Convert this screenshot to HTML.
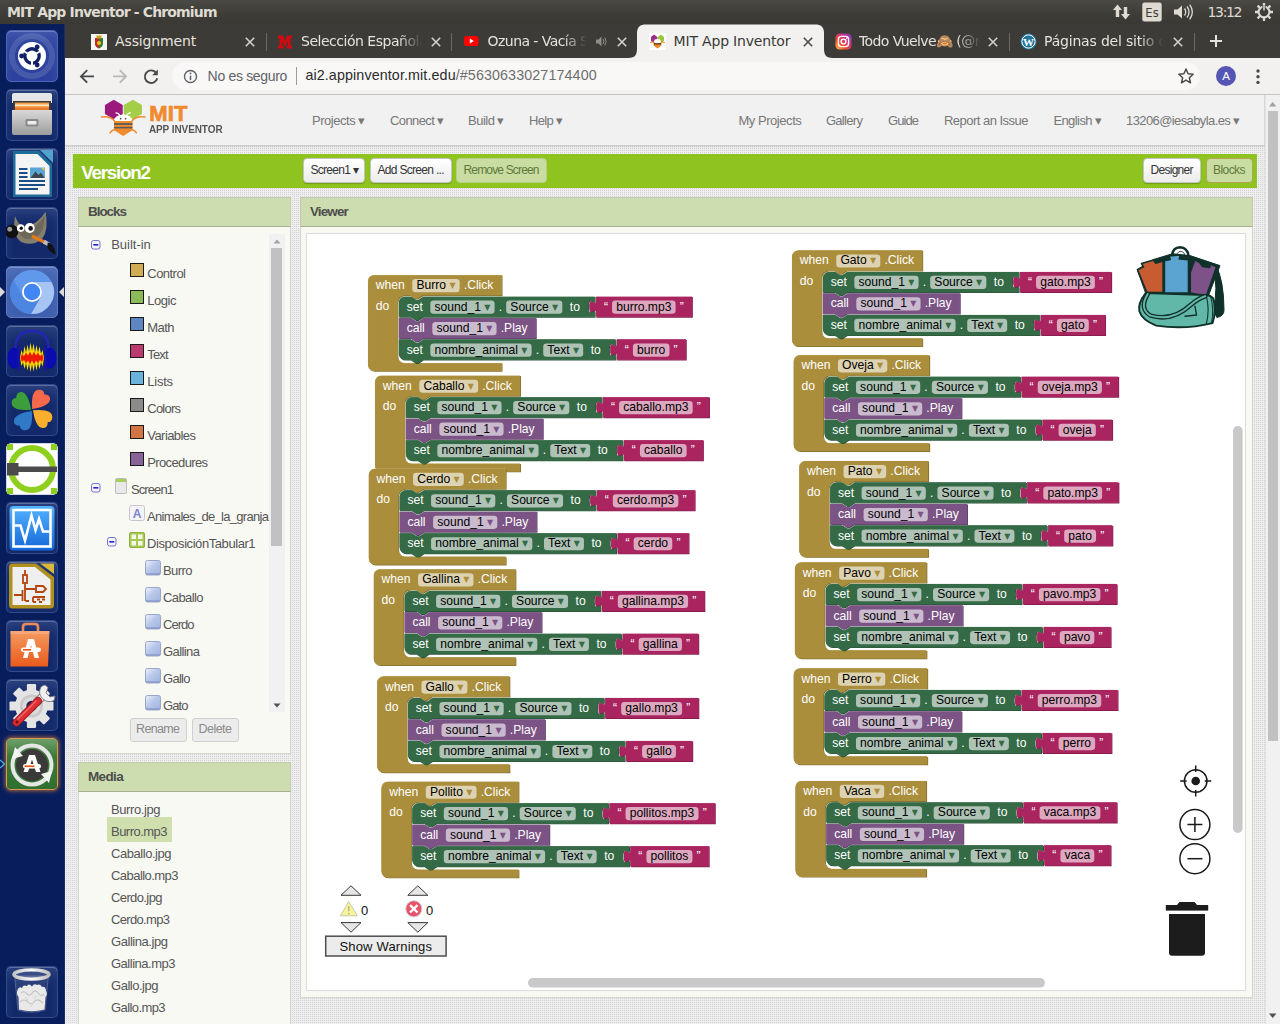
<!DOCTYPE html><html><head><meta charset="utf-8"><title>MIT App Inventor</title><style>
*{box-sizing:border-box;margin:0;padding:0}
html,body{width:1280px;height:1024px;overflow:hidden;background:#e9e9e9;font-family:"Liberation Sans",sans-serif;}
.abs{position:absolute}
#title{left:0;top:0;width:1280px;height:24px;background:linear-gradient(#46453f,#3a3934);color:#dfdbd2;font:bold 14.5px "DejaVu Sans","Liberation Sans",sans-serif;}
#title span{position:absolute;left:7px;top:3px;white-space:nowrap;letter-spacing:-0.35px}
#launcher{left:0;top:24px;width:65px;height:1000px;background:#081e5c;border-right:1px solid #1c2c66}
#tabs{left:65px;top:24px;width:1215px;height:34px;background:#3c3b37}
#toolbar{left:65px;top:58px;width:1215px;height:37px;background:#f2f1f0;border-bottom:1px solid #c9c8c6}
#page{left:65px;top:95px;width:1200px;height:929px;background:#e6e6e6;overflow:hidden}
.tabtxt{position:absolute;top:8px;font:14.5px "DejaVu Sans","Liberation Sans",sans-serif;color:#e4e1dc;white-space:nowrap;overflow:hidden;letter-spacing:-0.5px}
.x{position:absolute;top:7px;font:15px "DejaVu Sans",sans-serif;color:#d0cdc8}
svg text{white-space:pre}
svg text.bt{fill:#fff;font:14.667px "Liberation Sans",sans-serif}
svg text.et{fill:#000;font:14.667px "Liberation Sans","DejaVu Sans",sans-serif}
svg .er{fill:#fff;fill-opacity:.6}
.nav{position:absolute;top:19px;font:12.5px "Liberation Sans",sans-serif;color:#777;white-space:nowrap;letter-spacing:-0.2px}
.btn{position:absolute;height:25px;border:1px solid #c9c9c9;border-radius:3px;background:linear-gradient(#fff,#efefef);font:11.5px "Liberation Sans",sans-serif;color:#333;text-align:center;line-height:23px;white-space:nowrap;box-shadow:0 1px 1px rgba(0,0,0,.15)}
.phead{position:absolute;background:#cdddb0;color:#555;font:bold 13px "Liberation Sans",sans-serif;border-bottom:1px solid #aab48f}
.pbody{position:absolute;background:#f9f9f4}
.tree{position:absolute;font:12.5px "Liberation Sans",sans-serif;color:#555;white-space:nowrap;letter-spacing:-0.2px}
.sq{position:absolute;width:14px;height:14px;border:1px solid #222}
</style></head><body>
<div style="position:absolute;left:0.00px;top:0.00px;width:1280.00px;height:24.00px;background:linear-gradient(#4a4943,#3d3c37 60%,#3a3935)"></div>
<div style="position:absolute;left:7.00px;top:3.16px;font:bold 14px/18px 'DejaVu Sans',sans-serif;letter-spacing:-0.848px;color:#dfdbd2;white-space:nowrap;">MIT App Inventor - Chromium</div>
<svg style="position:absolute;left:1108px;top:0" width="172" height="24"><path d="M9.5 4.5 L14 10 H11.2 V17 H7.8 V10 H5z" fill="#dfdbd2"/><path d="M17.5 19.5 L13 14 H15.8 V7 H19.2 V14 H22z" fill="#dfdbd2"/><rect x="34.3" y="2.5" width="19.4" height="19" rx="2.2" fill="#dfdbd2"/><text x="44" y="17" text-anchor="middle" font-family="DejaVu Sans,sans-serif" font-size="11.5" fill="#3c3b37">Es</text><path d="M66 9.5 H69.5 L74 5.5 V18.5 L69.5 14.5 H66z" fill="#dfdbd2"/><path d="M76.5 8.5 Q79 12 76.5 15.5 M79 6.5 Q83 12 79 17.5 M81.7 4.7 Q87 12 81.7 19.3" stroke="#dfdbd2" stroke-width="1.3" fill="none"/><g transform="translate(156,12)"><circle r="5.4" fill="none" stroke="#dfdbd2" stroke-width="2.1"/><g stroke="#dfdbd2" stroke-width="2.3"><path d="M0 -9V-6M0 9V6M-9 0H-6M9 0H6M-6.4 -6.4L-4.3 -4.3M6.4 6.4L4.3 4.3M-6.4 6.4L-4.3 4.3M6.4 -6.4L4.3 -4.3"/></g><path d="M0 -7 V-1" stroke="#3c3b37" stroke-width="3.2"/><path d="M0 -8 V-1.5" stroke="#dfdbd2" stroke-width="1.5"/></g></svg>
<div style="position:absolute;left:1207.50px;top:3.16px;font:14px/18px 'DejaVu Sans',sans-serif;letter-spacing:-1.336px;color:#dfdbd2;white-space:nowrap;">13:12</div>
<div style="position:absolute;left:65.00px;top:24.00px;width:1215.00px;height:34.00px;background:#3c3b37"></div>
<div style="position:absolute;left:65.00px;top:58.00px;width:1215.00px;height:37.00px;background:#f2f1f0;border-bottom:1px solid #c6c5c3"></div>
<svg style="position:absolute;left:628px;top:24px" width="206" height="34"><path d="M0 34 C8 34 9 30 9 24 V9 C9 3 12 0.5 18 0.5 H187 C193 0.5 196 3 196 9 V24 C196 30 197 34 205 34z" fill="#f2f1f0"/></svg>
<svg style="position:absolute;left:90.5px;top:33.5px" width="16" height="16"><rect width="16" height="16" fill="#f4f4f0"/><path d="M4 4 H12 V9 Q12 13 8 14.5 Q4 13 4 9z" fill="#2e7d32"/><path d="M4 4H8V14.5Q4 13 4 9z" fill="#c62828"/><rect x="5.5" y="1.5" width="5" height="3" fill="#c9a227"/><circle cx="8" cy="9" r="2" fill="#f1c40f"/></svg>
<div style="position:absolute;left:115.10px;top:31.76px;font:14px/18px 'DejaVu Sans',sans-serif;letter-spacing:-0.148px;color:#e6e3de;white-space:nowrap;">Assignment</div>
<svg style="position:absolute;left:244.0px;top:35.5px" width="12" height="12"><path d="M1.7999999999999998 1.7999999999999998L10.2 10.2M10.2 1.7999999999999998L1.7999999999999998 10.2" stroke="#d4d1cb" stroke-width="1.6" fill="none"/></svg>
<div style="position:absolute;left:265.70px;top:33.00px;width:1.00px;height:18.00px;background:#6b6a66"></div>
<svg style="position:absolute;left:277px;top:33.5px" width="16" height="16"><path d="M1 1.5 H6 L8 7 L10 1.5 H15 V4 H13.6 V12 H15 V14.5 H9.5 V12 H10.8 V6.5 L8.6 12.5 H7.4 L5.2 6.5 V12 H6.5 V14.5 H1 V12 H2.4 V4 H1z" fill="#d10a10"/></svg>
<div style="position:absolute;left:301px;top:30px;width:121px;height:24px;overflow:hidden;-webkit-mask-image:linear-gradient(90deg,#000 97px,transparent);mask-image:linear-gradient(90deg,#000 97px,transparent)"><div style="position:absolute;left:0;top:1.75px;font:14px/18px 'DejaVu Sans',sans-serif;letter-spacing:-0.481px;color:#e6e3de;white-space:nowrap">Selección Española de F</div></div>
<svg style="position:absolute;left:430.3px;top:35.5px" width="12" height="12"><path d="M1.7999999999999998 1.7999999999999998L10.2 10.2M10.2 1.7999999999999998L1.7999999999999998 10.2" stroke="#d4d1cb" stroke-width="1.6" fill="none"/></svg>
<div style="position:absolute;left:451.40px;top:33.00px;width:1.00px;height:18.00px;background:#6b6a66"></div>
<svg style="position:absolute;left:464px;top:36px" width="15" height="11"><rect width="14.5" height="10" rx="2.6" fill="#f00"/><path d="M5.8 2.6 L9.8 5 L5.8 7.4z" fill="#fff"/></svg>
<div style="position:absolute;left:487.6px;top:30px;width:99.39999999999998px;height:24px;overflow:hidden;-webkit-mask-image:linear-gradient(90deg,#000 75.39999999999998px,transparent);mask-image:linear-gradient(90deg,#000 75.39999999999998px,transparent)"><div style="position:absolute;left:0;top:1.75px;font:14px/18px 'DejaVu Sans',sans-serif;letter-spacing:-0.564px;color:#e6e3de;white-space:nowrap">Ozuna - Vacía Sin Ti</div></div>
<svg style="position:absolute;left:616.0px;top:35.5px" width="12" height="12"><path d="M1.7999999999999998 1.7999999999999998L10.2 10.2M10.2 1.7999999999999998L1.7999999999999998 10.2" stroke="#d4d1cb" stroke-width="1.6" fill="none"/></svg>
<svg style="position:absolute;left:595px;top:35px" width="12" height="13"><path d="M1 4.5 H3.5 L6.5 1.5 V11.5 L3.5 8.5 H1z" fill="#8e8c87"/><path d="M8 4 Q9.8 6.5 8 9 M9.8 2.5 Q12.3 6.5 9.8 10.5" stroke="#8e8c87" stroke-width="1" fill="none"/></svg>
<svg style="position:absolute;left:648.5px;top:33px" width="17" height="17"><rect width="17" height="17" fill="#fff"/><path d="M2 4 L5 1.5 L8.3 4 V8 L5 10 L2 8z" fill="#9c2a8d"/><path d="M8.7 4 L12 1.5 L15 4 V8 L12 10 L8.7 8z" fill="#9bc53d"/><path d="M4.5 8 H12.5 V12.5 L8.5 15.5 L4.5 12.5z" fill="#f08a24"/><ellipse cx="8.5" cy="8.2" rx="3.4" ry="2.2" fill="#fff"/><path d="M1 9.5 L4.5 9 M16 9.5 L12.5 9" stroke="#f08a24" stroke-width="1.2"/><rect x="5" y="10.2" width="7" height="1.3" fill="#4a3a2a"/></svg>
<div style="position:absolute;left:673.60px;top:31.76px;font:14px/18px 'DejaVu Sans',sans-serif;letter-spacing:-0.186px;color:#3a3935;white-space:nowrap;">MIT App Inventor</div>
<svg style="position:absolute;left:802.3px;top:35.5px" width="12" height="12"><path d="M1.7999999999999998 1.7999999999999998L10.2 10.2M10.2 1.7999999999999998L1.7999999999999998 10.2" stroke="#4a4945" stroke-width="1.6" fill="none"/></svg>
<svg style="position:absolute;left:835px;top:33px" width="17" height="17"><defs><linearGradient id="ig" x1="0" y1="1" x2="1" y2="0"><stop offset="0" stop-color="#fdc94f"/><stop offset=".35" stop-color="#f0462f"/><stop offset=".7" stop-color="#c72e92"/><stop offset="1" stop-color="#6a45c8"/></linearGradient></defs><rect x="0.5" y="0.5" width="16" height="16" rx="4.2" fill="url(#ig)"/><rect x="3.4" y="3.4" width="10.2" height="10.2" rx="3" fill="none" stroke="#fff" stroke-width="1.4"/><circle cx="8.5" cy="8.5" r="2.4" fill="none" stroke="#fff" stroke-width="1.4"/><circle cx="11.6" cy="5.4" r=".8" fill="#fff"/></svg>
<div style="position:absolute;left:859px;top:30px;width:122px;height:24px;overflow:hidden;-webkit-mask-image:linear-gradient(90deg,#000 98px,transparent);mask-image:linear-gradient(90deg,#000 98px,transparent)"><div style="position:absolute;left:0;top:1.75px;font:14px/18px 'DejaVu Sans',sans-serif;letter-spacing:-0.587px;color:#e6e3de;white-space:nowrap">Todo Vuelve🙈 (@rosalia</div></div>
<svg style="position:absolute;left:987.3px;top:35.5px" width="12" height="12"><path d="M1.7999999999999998 1.7999999999999998L10.2 10.2M10.2 1.7999999999999998L1.7999999999999998 10.2" stroke="#d4d1cb" stroke-width="1.6" fill="none"/></svg>
<div style="position:absolute;left:1008.50px;top:33.00px;width:1.00px;height:18.00px;background:#6b6a66"></div>
<svg style="position:absolute;left:1020px;top:33px" width="17" height="17"><circle cx="8.5" cy="8.5" r="8" fill="#21759b"/><circle cx="8.5" cy="8.5" r="6.6" fill="none" stroke="#fff" stroke-width="1"/><text x="8.5" y="12.6" text-anchor="middle" font-family="Liberation Serif,serif" font-weight="bold" font-size="11" fill="#fff">W</text></svg>
<div style="position:absolute;left:1044px;top:30px;width:119px;height:24px;overflow:hidden;-webkit-mask-image:linear-gradient(90deg,#000 95px,transparent);mask-image:linear-gradient(90deg,#000 95px,transparent)"><div style="position:absolute;left:0;top:1.75px;font:14px/18px 'DejaVu Sans',sans-serif;letter-spacing:-0.185px;color:#e6e3de;white-space:nowrap">Páginas del sitio de IES</div></div>
<svg style="position:absolute;left:1171.8px;top:35.5px" width="12" height="12"><path d="M1.7999999999999998 1.7999999999999998L10.2 10.2M10.2 1.7999999999999998L1.7999999999999998 10.2" stroke="#d4d1cb" stroke-width="1.6" fill="none"/></svg>
<div style="position:absolute;left:1193.50px;top:33.00px;width:1.00px;height:18.00px;background:#6b6a66"></div>
<svg style="position:absolute;left:1209px;top:34px" width="14" height="14"><path d="M7 1V13M1 7H13" stroke="#e6e3de" stroke-width="2"/></svg>
<svg style="position:absolute;left:76px;top:66px" width="90" height="22"><path d="M18 10.4 H5.6 M11.2 4.2 L5 10.4 L11.2 16.6" stroke="#4a4a4a" stroke-width="1.9" fill="none"/><path d="M37 10.4 H49.4 M43.8 4.2 L50 10.4 L43.8 16.6" stroke="#b9b8b6" stroke-width="1.9" fill="none"/><path d="M79.6 6.2 A6.3 6.3 0 1 0 81.3 12.2" stroke="#4a4a4a" stroke-width="1.9" fill="none"/><path d="M81.8 3.6 V9.2 H76.2z" fill="#4a4a4a"/></svg>
<div style="position:absolute;left:172.00px;top:62.00px;width:1028.00px;height:28.00px;background:#f9f8f7;border-radius:14px"></div>
<svg style="position:absolute;left:183px;top:69px" width="15" height="15"><circle cx="7.5" cy="7.5" r="6" fill="none" stroke="#5f6368" stroke-width="1.4"/><path d="M7.5 6.6V11" stroke="#5f6368" stroke-width="1.5"/><circle cx="7.5" cy="4.4" r=".95" fill="#5f6368"/></svg>
<div style="position:absolute;left:207.60px;top:66.85px;font:14px/18px 'Liberation Sans',sans-serif;letter-spacing:-0.315px;color:#5f6368;white-space:nowrap;">No es seguro</div>
<div style="position:absolute;left:295.50px;top:67.00px;width:1.00px;height:18.00px;background:#9d9c9a"></div>
<div style="position:absolute;left:305.4px;top:67.3px;font:14.3px/17px 'Liberation Sans',sans-serif;letter-spacing:0.107px;color:#2b2b2b;white-space:nowrap">ai2.appinventor.mit.edu<span style="color:#6e6e6e">/#5630633027174400</span></div>
<svg style="position:absolute;left:1177px;top:67px" width="18" height="18"><path d="M9 2 L11.1 6.8 L16.2 7.3 L12.3 10.7 L13.5 15.8 L9 13.1 L4.5 15.8 L5.7 10.7 L1.8 7.3 L6.9 6.8z" fill="none" stroke="#4a4a4a" stroke-width="1.5" stroke-linejoin="round"/></svg>
<div style="position:absolute;left:1216.00px;top:66.00px;width:20.00px;height:20.00px;background:#5556b4;border-radius:10px"></div>
<div style="position:absolute;left:1222.30px;top:68.72px;font:11.5px/15px 'Liberation Sans',sans-serif;letter-spacing:-0.270px;color:#fff;white-space:nowrap;">A</div>
<svg style="position:absolute;left:1255px;top:68px" width="6" height="18"><circle cx="3" cy="3" r="1.7" fill="#4a4a4a"/><circle cx="3" cy="8.7" r="1.7" fill="#4a4a4a"/><circle cx="3" cy="14.4" r="1.7" fill="#4a4a4a"/></svg>
<div style="position:absolute;left:1265.00px;top:95.00px;width:15.00px;height:929.00px;background:#f1f1f1;border-left:1px solid #e2e2e2"></div>
<div style="position:absolute;left:1267.50px;top:111.00px;width:10.50px;height:630.00px;background:#c1c1c1"></div>
<svg style="position:absolute;left:1265px;top:95px" width="15" height="929"><path d="M4 11.5 L7.7 7 L11.4 11.5z" fill="#a3a3a3"/><path d="M4 918.5 L7.7 923 L11.4 918.5z" fill="#505050"/></svg>
<div id="launcher" class="abs"><div style="position:absolute;left:6px;top:6px;width:52px;height:52px;border-radius:5px;background:#2c429e;border:1px solid #4d62b5;box-shadow:inset 0 1px 0 rgba(255,255,255,.25),inset 0 10px 14px -4px rgba(200,215,255,.16);"></div><svg style="position:absolute;left:6px;top:6px" width="52" height="52" viewBox="0 0 52 52"><circle cx="26" cy="26" r="20" fill="none" stroke="rgba(255,255,255,.13)" stroke-width="6"/><circle cx="26" cy="26" r="14" fill="#fff"/><circle cx="26" cy="26" r="7.2" fill="none" stroke="#121f66" stroke-width="3.4"/><g fill="#fff"><rect x="25" y="16" width="2" height="5" transform="rotate(60 26 26)"/><rect x="25" y="16" width="2" height="5" transform="rotate(180 26 26)"/><rect x="25" y="16" width="2" height="5" transform="rotate(300 26 26)"/></g><g fill="#121f66"><circle cx="15.6" cy="26" r="2.4"/><circle cx="31.2" cy="17" r="2.4"/><circle cx="31.2" cy="35" r="2.4"/></g></svg>
<div style="position:absolute;left:6px;top:65px;width:52px;height:52px;border-radius:5px;background:rgba(110,140,230,.11);border:1px solid rgba(150,175,240,.24);box-shadow:inset 0 1px 0 rgba(255,255,255,.25),inset 0 10px 14px -4px rgba(200,215,255,.16);"></div><svg style="position:absolute;left:6px;top:65px" width="52" height="52" viewBox="0 0 52 52"><defs><linearGradient id="fg" x1="0" y1="0" x2="0" y2="1"><stop offset="0" stop-color="#d9d9d9"/><stop offset="1" stop-color="#9c9c9c"/></linearGradient></defs><path d="M6 6 Q6 4 8 4 H44 Q46 4 46 6 V14 H6z" fill="#e6e6e6"/><rect x="7" y="12" width="38" height="10" fill="#3a3a3a"/><rect x="9" y="13.5" width="34" height="8" fill="#f0a24a"/><rect x="9" y="15.5" width="34" height="1.6" fill="#fde7c3"/><rect x="9" y="18.5" width="34" height="3" fill="#e8792d"/><path d="M6 21 H46 V44 Q46 46 44 46 H8 Q6 46 6 44z" fill="url(#fg)"/><rect x="19.5" y="30" width="13" height="7.5" rx="1.5" fill="#8a8a8a"/><rect x="21.5" y="32" width="9" height="3.6" rx="0.8" fill="#ececec"/></svg>
<div style="position:absolute;left:6px;top:124px;width:52px;height:52px;border-radius:5px;background:rgba(110,140,230,.11);border:1px solid rgba(150,175,240,.24);box-shadow:inset 0 1px 0 rgba(255,255,255,.25),inset 0 10px 14px -4px rgba(200,215,255,.16);"></div><svg style="position:absolute;left:6px;top:124px" width="52" height="52" viewBox="0 0 52 52"><path d="M7 3 H33 L46 16 V49 H7z" fill="#1e6c9a"/><path d="M34 2 H47 V15z" fill="#4fa3cc"/><path d="M9.5 6 H31.5 L43.5 18 V46.5 H9.5z" fill="#f4f4f4"/><g fill="#1a4f86"><rect x="13" y="20" width="8.5" height="2"/><rect x="13" y="24" width="8.5" height="2"/><rect x="13" y="28" width="8.5" height="2"/><rect x="13" y="32" width="26" height="2"/><rect x="13" y="36" width="26" height="2"/><rect x="13" y="40" width="19" height="2"/></g><rect x="24" y="19.5" width="15" height="10.5" fill="#5aa7d6"/><path d="M24.5 30 L29.5 23.5 L32.5 27 L35 24.5 L38.5 30z" fill="#3b4650"/><path d="M35.5 20 H38.5 V23z" fill="#f3c13a"/></svg>
<div style="position:absolute;left:6px;top:183px;width:52px;height:52px;border-radius:5px;background:rgba(110,140,230,.11);border:1px solid rgba(150,175,240,.24);box-shadow:inset 0 1px 0 rgba(255,255,255,.25),inset 0 10px 14px -4px rgba(200,215,255,.16);"></div><svg style="position:absolute;left:6px;top:183px" width="52" height="52" viewBox="0 0 52 52"><g transform="translate(26 25) scale(1.13) translate(-27 -24)"><path d="M12 10 Q16 20 22 19 Q32 17 39 6 Q42 22 36 30 Q28 37 18 33 Q9 28 12 10z" fill="#857e6e"/><path d="M14 14 Q18 22 24 21 Q32 19 38 10 Q38 22 33 27 Q26 32 19 29 Q13 25 14 14z" fill="#6e685a"/><circle cx="9" cy="23.5" r="6" fill="#111"/><circle cx="7.3" cy="21.5" r="2.2" fill="#999"/><circle cx="17" cy="20.5" r="3.4" fill="#fff"/><circle cx="25" cy="20.5" r="4.4" fill="#fff"/><circle cx="17.5" cy="20.7" r="1.5" fill="#111"/><circle cx="25.8" cy="20.8" r="2" fill="#111"/><path d="M27 27.5 L39 33.5" stroke="#e07a1f" stroke-width="3"/><path d="M37.5 32.5 L42 35" stroke="#bdbdbd" stroke-width="3.6"/><path d="M41 33 Q47 35 48 44 Q42 42 40.5 36.5z" fill="#111"/></g></svg>
<div style="position:absolute;left:6px;top:242px;width:52px;height:52px;border-radius:5px;background:#3f5fae;border:1px solid #5f7cc2;box-shadow:inset 0 1px 0 rgba(255,255,255,.25),inset 0 10px 14px -4px rgba(200,215,255,.16);"></div><svg style="position:absolute;left:6px;top:242px" width="52" height="52" viewBox="0 0 52 52"><circle cx="26" cy="26" r="22" fill="#5a8ee6"/><path d="M26.00 16.00 L45.60 16.00 A22 22 0 0 1 24.86 47.97 L34.66 31.00 A10 10 0 0 0 26.00 16.00z" fill="#a6c4f4"/><path d="M34.66 31.00 L24.86 47.97 A22 22 0 0 1 7.54 14.03 L17.34 31.00 A10 10 0 0 0 34.66 31.00z" fill="#4d86e0"/><path d="M17.34 31.00 L7.54 14.03 A22 22 0 0 1 45.60 16.00 L26.00 16.00 A10 10 0 0 0 17.34 31.00z" fill="#6099ec"/><circle cx="26" cy="26" r="10" fill="#fff"/><circle cx="26" cy="26" r="8.2" fill="#4285f4"/></svg>
<svg style="position:absolute;left:0;top:262px" width="65" height="12"><path d="M0 1 L5 6 L0 11z" fill="#d9d9d9"/><path d="M64 1 L59 6 L64 11z" fill="#d9d9d9"/></svg>
<div style="position:absolute;left:6px;top:301px;width:52px;height:52px;border-radius:5px;background:rgba(110,140,230,.11);border:1px solid rgba(150,175,240,.24);box-shadow:inset 0 1px 0 rgba(255,255,255,.25),inset 0 10px 14px -4px rgba(200,215,255,.16);"></div><svg style="position:absolute;left:6px;top:301px" width="52" height="52" viewBox="0 0 52 52"><defs><radialGradient id="au" cx=".5" cy=".5" r=".5"><stop offset="0" stop-color="#ff2a00"/><stop offset=".45" stop-color="#ff5a00"/><stop offset=".75" stop-color="#ffd800"/><stop offset="1" stop-color="#ffee30"/></radialGradient></defs><path d="M9 26 Q9 6 26 6 Q43 6 43 26" fill="none" stroke="#2525b8" stroke-width="2.4"/><ellipse cx="8" cy="33" rx="6.5" ry="10.5" fill="#0b0bb0"/><ellipse cx="44" cy="33" rx="6.5" ry="10.5" fill="#0b0bb0"/><rect x="11.5" y="20" width="2.6" height="25" fill="#16169a"/><rect x="38" y="20" width="2.6" height="25" fill="#16169a"/><path d="M14 33 L15.5 25 L17 30 L18.5 21 L20 28 L21.5 19.5 L23 27 L24.5 17.5 L26 26 L27.5 18.5 L29 27.5 L30.5 20 L32 28 L33.5 21.5 L35 29 L36.5 25 L38 33 L36.5 41.5 L35 37 L33.5 44 L32 38 L30.5 45.5 L29 38.5 L27.5 46.5 L26 39 L24.5 47 L23 38.5 L21.5 45.5 L20 38 L18.5 44 L17 37 L15.5 41z" fill="#ffdd00"/><path d="M14.5 33 L16 29 L18 31 L20 27.5 L22 30.5 L24 26.5 L26 30.5 L28 26.5 L30 30.5 L32 27.5 L34 31 L36 29 L37.5 33 L36 37 L34 35 L32 38.5 L30 35.5 L28 39.5 L26 35.5 L24 39.5 L22 35.5 L20 38.5 L18 35 L16 37z" fill="#f01800"/></svg>
<div style="position:absolute;left:6px;top:360px;width:52px;height:52px;border-radius:5px;background:rgba(110,140,230,.11);border:1px solid rgba(150,175,240,.24);box-shadow:inset 0 1px 0 rgba(255,255,255,.25),inset 0 10px 14px -4px rgba(200,215,255,.16);"></div><svg style="position:absolute;left:6px;top:360px" width="52" height="52" viewBox="0 0 52 52"><g transform="rotate(12 26 26)"><path d="M26 25 Q20 5 30 4.5 Q34 4.5 34.5 8 Q41 7 41.5 12 Q42 19 26 25z" fill="#f4694b"/><path d="M27 26 Q47 20 47.5 30 Q47.5 34 44 34.5 Q45 41 40 41.5 Q33 42 27 26z" fill="#fbb02d"/><path d="M26 27 Q32 47 22 47.5 Q18 47.5 17.5 44 Q11 45 10.5 40 Q10 33 26 27z" fill="#2f79c7"/><path d="M25 26 Q5 32 4.5 22 Q4.5 18 8 17.5 Q7 11 12 10.5 Q19 10 25 26z" fill="#3c9e3a"/></g></svg>
<div style="position:absolute;left:6px;top:419px;width:52px;height:52px;border-radius:5px;background:#fff;border:1px solid #cfd6ea;box-shadow:inset 0 1px 0 rgba(255,255,255,.25),inset 0 10px 14px -4px rgba(200,215,255,.16);"></div><svg style="position:absolute;left:6px;top:419px" width="52" height="52" viewBox="0 0 52 52"><rect x="1" y="1" width="50" height="50" fill="#fff"/><g fill="#8fd01e"><rect x="1" y="1" width="6" height="6"/><rect x="45" y="1" width="6" height="6"/><rect x="1" y="45" width="6" height="6"/><rect x="45" y="45" width="6" height="6"/></g><circle cx="26" cy="26" r="21" fill="none" stroke="#8fd01e" stroke-width="6"/><rect x="1" y="23.5" width="50" height="5.5" fill="#4b4b4b"/><rect x="1" y="20" width="11.5" height="12.5" fill="#4b4b4b"/></svg>
<div style="position:absolute;left:6px;top:478px;width:52px;height:52px;border-radius:5px;background:rgba(110,140,230,.11);border:1px solid rgba(150,175,240,.24);box-shadow:inset 0 1px 0 rgba(255,255,255,.25),inset 0 10px 14px -4px rgba(200,215,255,.16);"></div><svg style="position:absolute;left:6px;top:478px" width="52" height="52" viewBox="0 0 52 52"><defs><linearGradient id="sc" x1="0" y1="0" x2="0" y2="1"><stop offset="0" stop-color="#53b3ff"/><stop offset="1" stop-color="#1567d8"/></linearGradient></defs><rect x="3.5" y="4" width="45" height="44.5" rx="4" fill="url(#sc)"/><rect x="7.5" y="8" width="37" height="36.5" fill="none" stroke="#fff" stroke-width="2.6"/><path d="M8 23.5 H14.5 L19 38.5 L25.5 13.5 L29.5 28 L33 17 L37 29.5 H44" fill="none" stroke="#fff" stroke-width="2.6" stroke-linejoin="miter"/></svg>
<div style="position:absolute;left:6px;top:537px;width:52px;height:52px;border-radius:5px;background:rgba(110,140,230,.11);border:1px solid rgba(150,175,240,.24);box-shadow:inset 0 1px 0 rgba(255,255,255,.25),inset 0 10px 14px -4px rgba(200,215,255,.16);"></div><svg style="position:absolute;left:6px;top:537px" width="52" height="52" viewBox="0 0 52 52"><path d="M3 6 Q3 2.5 6.5 2.5 H30 L48 16 V44 Q48 47.5 44.5 47.5 H6.5 Q3 47.5 3 44z" fill="#b0901f"/><path d="M34 2.5 H48 V13z" fill="#d8b93a"/><path d="M6.5 6 H29 L44.5 18.5 V44 H6.5z" fill="#efefef"/><g stroke="#b3450e" stroke-width="1.8" fill="none"><path d="M19 9 V14 M19 22 V40 M19 28 H30 M8 34 H16.5 M16.5 29 V40 M19.5 40 H23"/><rect x="17" y="14" width="4" height="8"/><path d="M30 25 H37 L40 28 L37 31 H30z"/><path d="M27 36 H39 M27 36 V41 M27 41 H30 M33 41 H36 M31 38.5 H34 M36 38.5 H39"/></g></svg>
<div style="position:absolute;left:6px;top:596px;width:52px;height:52px;border-radius:5px;background:rgba(110,140,230,.11);border:1px solid rgba(150,175,240,.24);box-shadow:inset 0 1px 0 rgba(255,255,255,.25),inset 0 10px 14px -4px rgba(200,215,255,.16);"></div><svg style="position:absolute;left:6px;top:596px" width="52" height="52" viewBox="0 0 52 52"><defs><linearGradient id="sw" x1="0" y1="0" x2="0" y2="1"><stop offset="0" stop-color="#f59a62"/><stop offset="1" stop-color="#ea5b1c"/></linearGradient></defs><path d="M17 14 V7 Q17 4 20 4 H29 Q32 4 32 7 V14" fill="none" stroke="#ef8a5a" stroke-width="2.6"/><path d="M4.5 11 H43.5 L42 46.5 H4.5z" fill="url(#sw)"/><path d="M4.5 11 H43.5 L43 14 H4.5z" fill="#f7b08a" opacity=".6"/><path d="M22 19 H28 L33 38 H28.5 L25 25 L21.5 38 H17z" fill="#fff"/><rect x="15" y="27.5" width="20" height="4.6" rx="2.3" fill="#fff"/><rect x="17" y="29" width="8" height="1.6" fill="#e9531a"/></svg>
<div style="position:absolute;left:6px;top:655px;width:52px;height:52px;border-radius:5px;background:rgba(110,140,230,.11);border:1px solid rgba(150,175,240,.24);box-shadow:inset 0 1px 0 rgba(255,255,255,.25),inset 0 10px 14px -4px rgba(200,215,255,.16);"></div><svg style="position:absolute;left:6px;top:655px" width="52" height="52" viewBox="0 0 52 52"><g transform="translate(25.5,27)"><g fill="#e4e4e4"><circle r="16.5"/><g><rect x="-4.6" y="-22" width="9.2" height="44" rx="1.2" transform="rotate(0)"/><rect x="-4.6" y="-22" width="9.2" height="44" rx="1.2" transform="rotate(45)"/><rect x="-4.6" y="-22" width="9.2" height="44" rx="1.2" transform="rotate(90)"/><rect x="-4.6" y="-22" width="9.2" height="44" rx="1.2" transform="rotate(135)"/></g></g><circle r="11.5" fill="#c9c9c9"/><circle r="9" fill="#dcdcdc"/><circle r="5.2" fill="#1a2466"/></g><path d="M30 24 L40 14" stroke="#7e7e86" stroke-width="8.4"/><path d="M30 24 L40 14" stroke="#e9e9e9" stroke-width="6.6"/><path d="M35 8 Q31.5 14.5 36.5 19.5 Q41.5 24.5 48 21.5 L49 17 L44 18 L40 14 L42 8.5 L39 6 Q36.5 6.5 35 8z" fill="#f0f0f0" stroke="#7e7e86" stroke-width=".9"/><path d="M10.5 43.5 L32 22" stroke="#a81a1e" stroke-width="8" stroke-linecap="round"/><path d="M10.5 43.5 L32 22" stroke="#dc2f33" stroke-width="6" stroke-linecap="round"/><path d="M12 40 L30 22" stroke="#ef6a6c" stroke-width="1.4" stroke-linecap="round"/><circle cx="11" cy="43" r="1.5" fill="#6e0d10"/></svg>
<div style="position:absolute;left:6px;top:714px;width:52px;height:52px;border-radius:5px;background:#2f7030;border:1px solid #d99a4e;box-shadow:inset 0 1px 0 rgba(255,255,255,.25),inset 0 10px 14px -4px rgba(200,215,255,.16);box-shadow:0 0 4px 1px rgba(230,130,60,.7)"></div><svg style="position:absolute;left:6px;top:714px" width="52" height="52" viewBox="0 0 52 52"><defs><linearGradient id="up" x1="0" y1="0" x2="0" y2="1"><stop offset="0" stop-color="#6f9f6c"/><stop offset=".35" stop-color="#3a7a38"/><stop offset="1" stop-color="#2f7030"/></linearGradient></defs><rect x="1" y="1" width="50" height="50" rx="4" fill="url(#up)"/><circle cx="26" cy="27" r="19.5" fill="none" stroke="#e6e6e6" stroke-width="4"/><circle cx="26" cy="27" r="16" fill="#3a3a38"/><path d="M6 21 L9 9 L17 18z" fill="#f4f4f4"/><path d="M46 33 L43 45 L35 36z" fill="#f4f4f4"/><path d="M23 17 H29 L34.5 34 H30 L26 21.5 L22 34 H17.5z" fill="#fff"/><rect x="17" y="26" width="18" height="4.4" rx="2.2" fill="#fff"/><rect x="18.5" y="27.4" width="10" height="1.7" fill="#e9531a"/></svg>
<svg style="position:absolute;left:0;top:735px" width="6" height="10"><path d="M0 1 L4.5 5 L0 9" fill="none" stroke="#4fb3e8" stroke-width="1.3"/></svg>
<div style="position:absolute;left:6px;top:942px;width:52px;height:52px;border-radius:5px;background:rgba(110,140,230,.11);border:1px solid rgba(150,175,240,.24);box-shadow:inset 0 1px 0 rgba(255,255,255,.25),inset 0 10px 14px -4px rgba(200,215,255,.16);"></div><svg style="position:absolute;left:6px;top:942px" width="52" height="52" viewBox="0 0 52 52"><defs><linearGradient id="tr" x1="0" y1="0" x2="1" y2="0"><stop offset="0" stop-color="#c4c4c4"/><stop offset=".5" stop-color="#fafafa"/><stop offset="1" stop-color="#bcbcbc"/></linearGradient></defs><path d="M8.5 10 L12 44 Q25.5 48.5 39 44 L42.5 10z" fill="rgba(255,255,255,.10)" stroke="rgba(255,255,255,.28)" stroke-width=".8"/><path d="M11.5 24 Q13 20 16 22 Q17 18.5 21 20 Q23 17 26 20.5 Q28 17 31 19 Q34 17.5 36 21 Q39.5 20 40 25 Q42 28 39.5 31 L38.5 43.5 Q25.5 47 13 43.5 L12.5 31 Q10 28 11.5 24z" fill="#e9e9e9"/><path d="M15 27 Q18 24 21 28 Q24 31 27 26 Q30 23 33 28 Q35 31 38 28 M14 36 Q18 32 22 36 Q25 40 29 35 Q32 32 37 37" stroke="#c4c4c4" stroke-width="1.1" fill="none"/><path d="M19 31 L22 34 M30 30 L28 33 M24 41 L27 38" stroke="#d2d2d2" stroke-width="1" fill="none"/><ellipse cx="25.5" cy="8.5" rx="17.6" ry="4.6" fill="rgba(255,255,255,.12)" stroke="url(#tr)" stroke-width="3.4"/></svg></div>
<div id="page" class="abs"><div style="position:absolute;left:0;top:0;width:1201px;height:929px;background-color:#eeeeee;background-image:linear-gradient(90deg,#eeeeee 1px,transparent 1px),linear-gradient(#eeeeee 1px,#d2d2d2 1px);background-size:2px 2px"></div>
<div style="position:absolute;left:0.00px;top:0.00px;width:1200.00px;height:51.00px;background:#f1f1f1;border-bottom:1px solid #cfcfcf;border-right:1px solid #d8d8d8;box-shadow:0 1px 1px rgba(0,0,0,.06)"></div>
<svg style="position:absolute;left:31px;top:1px" width="56" height="46" viewBox="0 0 56 46"><polygon points="17.75,3.83 26.78,8.93 26.78,18.07 17.75,23.17 8.93,18.07 8.93,8.93" fill="#9d1a7d"/><polygon points="36.88,3.83 45.91,8.93 45.91,18.07 36.88,23.17 27.84,18.07 27.84,8.93" fill="#a3ce48"/><polygon points="18.07,24.44 36.34,24.44 36.34,34.22 27.21,39.96 18.07,34.22" fill="#f08a2e"/><path d="M18.07 25.29 Q18.07 18.92 27.21 18.70 Q36.34 18.92 36.34 25.29z" fill="#fff"/><rect x="18.07" y="25.08" width="18.28" height="8.29" fill="#f08a2e"/><rect x="18.07" y="27.10" width="18.28" height="1.81" fill="#5a5a5a"/><rect x="18.07" y="30.82" width="18.28" height="1.59" fill="#5a5a5a"/><circle cx="24.65" cy="22.64" r="0.85" fill="#555"/><circle cx="29.54" cy="22.64" r="0.85" fill="#555"/><path d="M23.59 19.34 Q22.53 16.79 19.98 16.79 M30.82 19.34 Q31.88 16.79 34.43 16.79" stroke="#fff" stroke-width="1.3" fill="none" stroke-linecap="round"/><path d="M18.28 24.65 Q13.82 19.66 5.53 21.04 M36.13 24.65 Q40.60 19.66 48.88 21.04 M18.70 33.58 Q15.94 34.22 14.13 36.77 M35.92 33.58 Q38.47 34.22 40.38 36.77" stroke="#f08a2e" stroke-width="1.5" fill="none" stroke-linecap="round"/></svg><div style="position:absolute;left:84.30px;top:4.18px;font:bold 22px/29px 'Liberation Sans',sans-serif;letter-spacing:0.161px;color:#f08a2e;white-space:nowrap;-webkit-text-stroke:0.7px #f08a2e;">MIT</div><div style="position:absolute;left:83.90px;top:28.04px;font:bold 10px/13px 'Liberation Sans',sans-serif;letter-spacing:-0.083px;color:#555;white-space:nowrap;transform:scaleY(1.04);transform-origin:0 80%;">APP INVENTOR</div>
<div style="position:absolute;left:247.00px;top:17.00px;font:13px/17px 'Liberation Sans',sans-serif;letter-spacing:-0.455px;color:#777;white-space:nowrap;">Projects ▾</div>
<div style="position:absolute;left:325.00px;top:17.00px;font:13px/17px 'Liberation Sans',sans-serif;letter-spacing:-0.601px;color:#777;white-space:nowrap;">Connect ▾</div>
<div style="position:absolute;left:403.00px;top:17.00px;font:13px/17px 'Liberation Sans',sans-serif;letter-spacing:-0.507px;color:#777;white-space:nowrap;">Build ▾</div>
<div style="position:absolute;left:464.00px;top:17.00px;font:13px/17px 'Liberation Sans',sans-serif;letter-spacing:-0.675px;color:#777;white-space:nowrap;">Help ▾</div>
<div style="position:absolute;left:673.40px;top:17.00px;font:13px/17px 'Liberation Sans',sans-serif;letter-spacing:-0.450px;color:#777;white-space:nowrap;">My Projects</div>
<div style="position:absolute;left:760.90px;top:17.00px;font:13px/17px 'Liberation Sans',sans-serif;letter-spacing:-0.680px;color:#777;white-space:nowrap;">Gallery</div>
<div style="position:absolute;left:823.00px;top:17.00px;font:13px/17px 'Liberation Sans',sans-serif;letter-spacing:-0.923px;color:#777;white-space:nowrap;">Guide</div>
<div style="position:absolute;left:879.00px;top:17.00px;font:13px/17px 'Liberation Sans',sans-serif;letter-spacing:-0.527px;color:#777;white-space:nowrap;">Report an Issue</div>
<div style="position:absolute;left:988.40px;top:17.00px;font:13px/17px 'Liberation Sans',sans-serif;letter-spacing:-0.584px;color:#777;white-space:nowrap;">English ▾</div>
<div style="position:absolute;left:1061.00px;top:17.00px;font:13px/17px 'Liberation Sans',sans-serif;letter-spacing:-0.596px;color:#777;white-space:nowrap;">13206@iesabyla.es ▾</div>
<div style="position:absolute;left:8.00px;top:59.00px;width:1184.20px;height:34.00px;background:#8fc31f"></div>
<div style="position:absolute;left:16.30px;top:65.69px;font:bold 18.8px/24px 'Liberation Sans',sans-serif;letter-spacing:-1.245px;color:#fff;white-space:nowrap;">Version2</div>
<div style="position:absolute;left:238.00px;top:63.00px;width:61.50px;height:25.40px;border:1px solid #c4c4c4;border-radius:4px;background:linear-gradient(#ffffff,#ececec);box-shadow:0 1px 1px rgba(0,0,0,.2);"></div>
<div style="position:absolute;left:245.50px;top:67.44px;font:12px/16px 'Liberation Sans',sans-serif;letter-spacing:-0.725px;color:#333;white-space:nowrap;">Screen1 ▾</div>
<div style="position:absolute;left:305.00px;top:63.00px;width:82.00px;height:25.40px;border:1px solid #c4c4c4;border-radius:4px;background:linear-gradient(#ffffff,#ececec);box-shadow:0 1px 1px rgba(0,0,0,.2);"></div>
<div style="position:absolute;left:312.50px;top:67.44px;font:12px/16px 'Liberation Sans',sans-serif;letter-spacing:-0.696px;color:#333;white-space:nowrap;">Add Screen ...</div>
<div style="position:absolute;left:391.00px;top:63.00px;width:90.75px;height:25.40px;border:1px solid #c4c4c4;border-radius:4px;background:linear-gradient(#ffffff,#ececec);box-shadow:0 1px 1px rgba(0,0,0,.2);background:#c9dca2;border-color:#b5cf82;box-shadow:none;"></div>
<div style="position:absolute;left:398.50px;top:67.44px;font:12px/16px 'Liberation Sans',sans-serif;letter-spacing:-0.837px;color:#5d7a3a;white-space:nowrap;">Remove Screen</div>
<div style="position:absolute;left:1078.00px;top:63.00px;width:58.00px;height:25.40px;border:1px solid #c4c4c4;border-radius:4px;background:linear-gradient(#ffffff,#ececec);box-shadow:0 1px 1px rgba(0,0,0,.2);"></div>
<div style="position:absolute;left:1085.50px;top:67.44px;font:12px/16px 'Liberation Sans',sans-serif;letter-spacing:-0.718px;color:#333;white-space:nowrap;">Designer</div>
<div style="position:absolute;left:1140.60px;top:63.00px;width:47.40px;height:25.40px;border:1px solid #c4c4c4;border-radius:4px;background:linear-gradient(#ffffff,#ececec);box-shadow:0 1px 1px rgba(0,0,0,.2);background:#c9dca2;border-color:#b3a653;box-shadow:none;"></div>
<div style="position:absolute;left:1148.00px;top:67.44px;font:12px/16px 'Liberation Sans',sans-serif;letter-spacing:-0.569px;color:#5d7a3a;white-space:nowrap;">Blocks</div>
<div style="position:absolute;left:13.00px;top:102.00px;width:212.50px;height:29.50px;background:#cdddb0;border:1px solid #c3c9b3;border-bottom:1px solid #a9b092;"></div>
<div style="position:absolute;left:13.00px;top:131.50px;width:212.50px;height:527.00px;background:#f9f9f4;border:1px solid #d5d5d0;border-top:none;"></div>
<div style="position:absolute;left:23.00px;top:107.62px;font:bold 13.5px/18px 'Liberation Sans',sans-serif;letter-spacing:-1.054px;color:#4d4d4d;white-space:nowrap;">Blocks</div>
<div style="position:absolute;left:204.00px;top:139.00px;width:15.50px;height:478.00px;background:#f1f1f1"></div>
<div style="position:absolute;left:206.00px;top:153.00px;width:11.00px;height:298.00px;background:#c1c1c1"></div>
<svg style="position:absolute;left:204px;top:139px" width="16" height="478"><path d="M4.5 9.5 L8 5.5 L11.5 9.5z" fill="#a3a3a3"/><path d="M4.5 469.5 L8 473.5 L11.5 469.5z" fill="#505050"/></svg>
<svg style="position:absolute;left:26px;top:145px" width="10" height="10"><rect x="0.5" y="0.5" width="8.5" height="8.5" rx="2" fill="#f4f4fb" stroke="#7474c4" stroke-width="1"/><rect x="2.3" y="4" width="5" height="1.6" fill="#2222cc"/></svg>
<div style="position:absolute;left:46.20px;top:141.00px;font:13px/17px 'Liberation Sans',sans-serif;letter-spacing:-0.020px;color:#555;white-space:nowrap;">Built-in</div>
<div style="position:absolute;left:65.00px;top:168.00px;width:14.00px;height:14.00px;background:#d0ac54;border:1px solid #1a1a1a"></div>
<div style="position:absolute;left:82.30px;top:169.60px;font:13px/17px 'Liberation Sans',sans-serif;letter-spacing:-0.535px;color:#555;white-space:nowrap;">Control</div>
<div style="position:absolute;left:65.00px;top:195.05px;width:14.00px;height:14.00px;background:#8dba58;border:1px solid #1a1a1a"></div>
<div style="position:absolute;left:82.30px;top:196.65px;font:13px/17px 'Liberation Sans',sans-serif;letter-spacing:-0.470px;color:#555;white-space:nowrap;">Logic</div>
<div style="position:absolute;left:65.00px;top:222.10px;width:14.00px;height:14.00px;background:#5f86c2;border:1px solid #1a1a1a"></div>
<div style="position:absolute;left:82.30px;top:223.70px;font:13px/17px 'Liberation Sans',sans-serif;letter-spacing:-0.567px;color:#555;white-space:nowrap;">Math</div>
<div style="position:absolute;left:65.00px;top:249.15px;width:14.00px;height:14.00px;background:#b93b6f;border:1px solid #1a1a1a"></div>
<div style="position:absolute;left:82.30px;top:250.75px;font:13px/17px 'Liberation Sans',sans-serif;letter-spacing:-0.861px;color:#555;white-space:nowrap;">Text</div>
<div style="position:absolute;left:65.00px;top:276.20px;width:14.00px;height:14.00px;background:#68b2dc;border:1px solid #1a1a1a"></div>
<div style="position:absolute;left:82.30px;top:277.80px;font:13px/17px 'Liberation Sans',sans-serif;letter-spacing:-0.258px;color:#555;white-space:nowrap;">Lists</div>
<div style="position:absolute;left:65.00px;top:303.25px;width:14.00px;height:14.00px;background:#8b8b8b;border:1px solid #1a1a1a"></div>
<div style="position:absolute;left:82.30px;top:304.85px;font:13px/17px 'Liberation Sans',sans-serif;letter-spacing:-0.773px;color:#555;white-space:nowrap;">Colors</div>
<div style="position:absolute;left:65.00px;top:330.30px;width:14.00px;height:14.00px;background:#d37444;border:1px solid #1a1a1a"></div>
<div style="position:absolute;left:82.30px;top:331.90px;font:13px/17px 'Liberation Sans',sans-serif;letter-spacing:-0.562px;color:#555;white-space:nowrap;">Variables</div>
<div style="position:absolute;left:65.00px;top:357.35px;width:14.00px;height:14.00px;background:#886397;border:1px solid #1a1a1a"></div>
<div style="position:absolute;left:82.30px;top:358.95px;font:13px/17px 'Liberation Sans',sans-serif;letter-spacing:-0.642px;color:#555;white-space:nowrap;">Procedures</div>
<svg style="position:absolute;left:26px;top:387.5px" width="10" height="10"><rect x="0.5" y="0.5" width="8.5" height="8.5" rx="2" fill="#f4f4fb" stroke="#7474c4" stroke-width="1"/><rect x="2.3" y="4" width="5" height="1.6" fill="#2222cc"/></svg>
<svg style="position:absolute;left:50px;top:382.5px" width="13" height="17"><rect x="0.5" y="0.5" width="11" height="15" rx="1.5" fill="#e9e9e9" stroke="#bdbdbd"/><rect x="1" y="1" width="10" height="3" fill="#a8cf5c"/></svg>
<div style="position:absolute;left:66.00px;top:386.00px;font:13px/17px 'Liberation Sans',sans-serif;letter-spacing:-0.903px;color:#555;white-space:nowrap;">Screen1</div>
<svg style="position:absolute;left:64px;top:410.0px" width="16" height="16"><rect x="0.5" y="0.5" width="15" height="15" rx="2" fill="#f3f3f8" stroke="#c6c6cc"/><text x="8" y="12.5" text-anchor="middle" font-family="Liberation Sans,sans-serif" font-weight="bold" font-size="12" fill="#7a86c8">A</text></svg>
<div style="position:absolute;left:82px;top:406.0px;width:122.5px;height:26px;overflow:hidden"><div style="position:absolute;left:0.00px;top:7.00px;font:13px/17px 'Liberation Sans',sans-serif;letter-spacing:-0.694px;color:#555;white-space:nowrap;">Animales_de_la_granja</div></div>
<svg style="position:absolute;left:42px;top:441.5999999999999px" width="10" height="10"><rect x="0.5" y="0.5" width="8.5" height="8.5" rx="2" fill="#f4f4fb" stroke="#7474c4" stroke-width="1"/><rect x="2.3" y="4" width="5" height="1.6" fill="#2222cc"/></svg>
<svg style="position:absolute;left:64px;top:437.1px" width="16" height="16"><rect x="0.5" y="0.5" width="15" height="15" rx="1.5" fill="#a9c957" stroke="#8fb040"/><rect x="2.5" y="2.5" width="4.5" height="4.5" fill="#f4f8e6"/><rect x="9" y="2.5" width="4.5" height="4.5" fill="#f4f8e6"/><rect x="2.5" y="9" width="4.5" height="4.5" fill="#f4f8e6"/><rect x="9" y="9" width="4.5" height="4.5" fill="#f4f8e6"/></svg>
<div style="position:absolute;left:82.00px;top:440.10px;font:13px/17px 'Liberation Sans',sans-serif;letter-spacing:-0.432px;color:#555;white-space:nowrap;">DisposiciónTabular1</div>
<svg style="position:absolute;left:80px;top:464.6px" width="17" height="17"><defs><linearGradient id="bg0" x1="0" y1="0" x2="1" y2="1"><stop offset="0" stop-color="#eef2fb"/><stop offset="0.45" stop-color="#b9c8ea"/><stop offset="1" stop-color="#9fb2dd"/></linearGradient></defs><rect x="0.5" y="0.5" width="15" height="14.5" rx="2" fill="url(#bg0)" stroke="#98a6c8"/><rect x="1" y="13" width="14" height="2" fill="#8899c6" opacity=".7"/></svg>
<div style="position:absolute;left:98.00px;top:467.15px;font:13px/17px 'Liberation Sans',sans-serif;letter-spacing:-0.572px;color:#555;white-space:nowrap;">Burro</div>
<svg style="position:absolute;left:80px;top:491.7px" width="17" height="17"><defs><linearGradient id="bg1" x1="0" y1="0" x2="1" y2="1"><stop offset="0" stop-color="#eef2fb"/><stop offset="0.45" stop-color="#b9c8ea"/><stop offset="1" stop-color="#9fb2dd"/></linearGradient></defs><rect x="0.5" y="0.5" width="15" height="14.5" rx="2" fill="url(#bg1)" stroke="#98a6c8"/><rect x="1" y="13" width="14" height="2" fill="#8899c6" opacity=".7"/></svg>
<div style="position:absolute;left:98.00px;top:494.20px;font:13px/17px 'Liberation Sans',sans-serif;letter-spacing:-0.597px;color:#555;white-space:nowrap;">Caballo</div>
<svg style="position:absolute;left:80px;top:518.7px" width="17" height="17"><defs><linearGradient id="bg2" x1="0" y1="0" x2="1" y2="1"><stop offset="0" stop-color="#eef2fb"/><stop offset="0.45" stop-color="#b9c8ea"/><stop offset="1" stop-color="#9fb2dd"/></linearGradient></defs><rect x="0.5" y="0.5" width="15" height="14.5" rx="2" fill="url(#bg2)" stroke="#98a6c8"/><rect x="1" y="13" width="14" height="2" fill="#8899c6" opacity=".7"/></svg>
<div style="position:absolute;left:98.00px;top:521.25px;font:13px/17px 'Liberation Sans',sans-serif;letter-spacing:-0.977px;color:#555;white-space:nowrap;">Cerdo</div>
<svg style="position:absolute;left:80px;top:545.8px" width="17" height="17"><defs><linearGradient id="bg3" x1="0" y1="0" x2="1" y2="1"><stop offset="0" stop-color="#eef2fb"/><stop offset="0.45" stop-color="#b9c8ea"/><stop offset="1" stop-color="#9fb2dd"/></linearGradient></defs><rect x="0.5" y="0.5" width="15" height="14.5" rx="2" fill="url(#bg3)" stroke="#98a6c8"/><rect x="1" y="13" width="14" height="2" fill="#8899c6" opacity=".7"/></svg>
<div style="position:absolute;left:98.00px;top:548.30px;font:13px/17px 'Liberation Sans',sans-serif;letter-spacing:-0.578px;color:#555;white-space:nowrap;">Gallina</div>
<svg style="position:absolute;left:80px;top:572.8px" width="17" height="17"><defs><linearGradient id="bg4" x1="0" y1="0" x2="1" y2="1"><stop offset="0" stop-color="#eef2fb"/><stop offset="0.45" stop-color="#b9c8ea"/><stop offset="1" stop-color="#9fb2dd"/></linearGradient></defs><rect x="0.5" y="0.5" width="15" height="14.5" rx="2" fill="url(#bg4)" stroke="#98a6c8"/><rect x="1" y="13" width="14" height="2" fill="#8899c6" opacity=".7"/></svg>
<div style="position:absolute;left:98.00px;top:575.35px;font:13px/17px 'Liberation Sans',sans-serif;letter-spacing:-0.712px;color:#555;white-space:nowrap;">Gallo</div>
<svg style="position:absolute;left:80px;top:599.9px" width="17" height="17"><defs><linearGradient id="bg5" x1="0" y1="0" x2="1" y2="1"><stop offset="0" stop-color="#eef2fb"/><stop offset="0.45" stop-color="#b9c8ea"/><stop offset="1" stop-color="#9fb2dd"/></linearGradient></defs><rect x="0.5" y="0.5" width="15" height="14.5" rx="2" fill="url(#bg5)" stroke="#98a6c8"/><rect x="1" y="13" width="14" height="2" fill="#8899c6" opacity=".7"/></svg>
<div style="position:absolute;left:98.00px;top:602.40px;font:13px/17px 'Liberation Sans',sans-serif;letter-spacing:-0.895px;color:#555;white-space:nowrap;">Gato</div>
<div style="position:absolute;left:64.50px;top:622.50px;width:57.00px;height:24.50px;border:1px solid #d0d0d0;border-radius:3px;background:#ececec"></div>
<div style="position:absolute;left:71.00px;top:626.27px;font:12.5px/16px 'Liberation Sans',sans-serif;letter-spacing:-0.650px;color:#8a8a8a;white-space:nowrap;">Rename</div>
<div style="position:absolute;left:126.50px;top:622.50px;width:47.00px;height:24.50px;border:1px solid #d0d0d0;border-radius:3px;background:#ececec"></div>
<div style="position:absolute;left:133.50px;top:626.27px;font:12.5px/16px 'Liberation Sans',sans-serif;letter-spacing:-0.527px;color:#8a8a8a;white-space:nowrap;">Delete</div>
<div style="position:absolute;left:13.00px;top:667.00px;width:212.50px;height:30.00px;background:#cdddb0;border:1px solid #c3c9b3;border-bottom:1px solid #a9b092;"></div>
<div style="position:absolute;left:13.00px;top:697.00px;width:212.50px;height:240.00px;background:#f9f9f4;border:1px solid #d5d5d0;border-top:none;"></div>
<div style="position:absolute;left:23.00px;top:673.12px;font:bold 13.5px/18px 'Liberation Sans',sans-serif;letter-spacing:-0.627px;color:#4d4d4d;white-space:nowrap;">Media</div>
<div style="position:absolute;left:42.00px;top:722.30px;width:65.00px;height:25.20px;background:#cfdfae"></div>
<div style="position:absolute;left:46.00px;top:706.30px;font:13px/17px 'Liberation Sans',sans-serif;letter-spacing:-0.406px;color:#555;white-space:nowrap;">Burro.jpg</div>
<div style="position:absolute;left:46.00px;top:728.30px;font:13px/17px 'Liberation Sans',sans-serif;letter-spacing:-0.524px;color:#555;white-space:nowrap;">Burro.mp3</div>
<div style="position:absolute;left:46.00px;top:750.30px;font:13px/17px 'Liberation Sans',sans-serif;letter-spacing:-0.454px;color:#555;white-space:nowrap;">Caballo.jpg</div>
<div style="position:absolute;left:46.00px;top:772.30px;font:13px/17px 'Liberation Sans',sans-serif;letter-spacing:-0.549px;color:#555;white-space:nowrap;">Caballo.mp3</div>
<div style="position:absolute;left:46.00px;top:794.30px;font:13px/17px 'Liberation Sans',sans-serif;letter-spacing:-0.608px;color:#555;white-space:nowrap;">Cerdo.jpg</div>
<div style="position:absolute;left:46.00px;top:816.30px;font:13px/17px 'Liberation Sans',sans-serif;letter-spacing:-0.664px;color:#555;white-space:nowrap;">Cerdo.mp3</div>
<div style="position:absolute;left:46.00px;top:838.30px;font:13px/17px 'Liberation Sans',sans-serif;letter-spacing:-0.443px;color:#555;white-space:nowrap;">Gallina.jpg</div>
<div style="position:absolute;left:46.00px;top:860.30px;font:13px/17px 'Liberation Sans',sans-serif;letter-spacing:-0.487px;color:#555;white-space:nowrap;">Gallina.mp3</div>
<div style="position:absolute;left:46.00px;top:882.30px;font:13px/17px 'Liberation Sans',sans-serif;letter-spacing:-0.476px;color:#555;white-space:nowrap;">Gallo.jpg</div>
<div style="position:absolute;left:46.00px;top:904.30px;font:13px/17px 'Liberation Sans',sans-serif;letter-spacing:-0.594px;color:#555;white-space:nowrap;">Gallo.mp3</div>
<div style="position:absolute;left:235.00px;top:102.00px;width:952.50px;height:29.50px;background:#cdddb0;border:1px solid #c3c9b3;border-bottom:1px solid #a9b092;"></div>
<div style="position:absolute;left:235.00px;top:131.50px;width:952.50px;height:771.00px;background:#f9f9f4;border:1px solid #d5d5d0;border-top:none;"></div>
<div style="position:absolute;left:245.00px;top:107.62px;font:bold 13.5px/18px 'Liberation Sans',sans-serif;letter-spacing:-0.905px;color:#4d4d4d;white-space:nowrap;">Viewer</div>
<div style="position:absolute;left:241.00px;top:138.00px;width:939.50px;height:757.50px;background:#fff;border:1px solid #dcdcdc"></div>
<svg class="abs" style="left:241px;top:138px" width="940" height="757" viewBox="0 0 940 757"><g transform="translate(61.55,41.65) scale(0.8265)"><g transform="translate(0.00,0.00)"><defs><path id="p1" d="m 0,8 A 8,8 0 0,1 8,0 H 162.29 v 25 H 66.31 l -6,4 -3,0 -6,-4 h -7 a 8,8 0 0,0 -8,8 v 65.50 a 8,8 0 0,0 8,8 H 162.29 v 10 H 8 a 8,8 0 0,1 -8,-8 z"/><clipPath id="cp1"><use href="#p1"/></clipPath></defs><use href="#p1" transform="translate(1,1)" fill="#887230"/><g clip-path="url(#cp1)"><use href="#p1" fill="#c4b076"/><use href="#p1" transform="translate(0.6,0.6)" fill="#aa8e3c"/></g><text x="10.00" y="17.36" class="bt">when </text>
<rect x="54.14" y="5.30" width="57.30" height="16" rx="4" ry="4" class="er"/>
<text x="59.14" y="17.36" class="et">Burro <tspan fill="#aa8e3c">▾</tspan></text>
<text x="116.44" y="17.36" class="bt">.Click</text><text x="10.00" y="42.77" class="bt">do</text></g><g transform="translate(37.31,26.00)"><defs><path id="p2" d="m 0,8 A 8,8 0 0,1 8,0 H 15 l 6,4 3,0 6,-4 H 237.65 v 5 c 0,10 -8,-8 -8,7.5 s 8,-2.5 8,7.5 v 5 H 29.5 l -6,4 -3,0 -6,-4 H 0 z"/><clipPath id="cp2"><use href="#p2"/></clipPath></defs><use href="#p2" transform="translate(1,1)" fill="#2a5538"/><g clip-path="url(#cp2)"><use href="#p2" fill="#72977e"/><use href="#p2" transform="translate(0.6,0.6)" fill="#356a46"/></g><text x="10.00" y="17.98" class="bt">set </text>
<rect x="38.64" y="5.30" width="77.71" height="16" rx="4" ry="4" class="er"/>
<text x="43.64" y="17.98" class="et">sound_1 <tspan fill="#356a46">▾</tspan></text>
<text x="121.35" y="17.98" class="bt">.</text>
<rect x="130.43" y="5.30" width="67.91" height="16" rx="4" ry="4" class="er"/>
<text x="135.43" y="17.98" class="et">Source <tspan fill="#356a46">▾</tspan></text>
<text x="203.34" y="17.98" class="bt"> to</text></g><g transform="translate(275.96,26.00)"><defs><path id="p3" d="m 0,0 H 116.62 v 25 H 0 V 20 c 0,-10 -8,8 -8,-7.5 s 8,2.5 8,-7.5 z"/><clipPath id="cp3"><use href="#p3"/></clipPath></defs><use href="#p3" transform="translate(1,1)" fill="#881d4d"/><g clip-path="url(#cp3)"><use href="#p3" fill="#c46690"/><use href="#p3" transform="translate(0.6,0.6)" fill="#aa2460"/></g><text x="10.00" y="17.98" class="bt">“</text>
<rect x="19.88" y="5.30" width="76.85" height="16" rx="4" ry="4" class="er"/>
<text x="24.88" y="17.98" class="et">burro.mp3</text>
<text x="101.73" y="17.98" class="bt">”</text></g><g transform="translate(37.31,52.00)"><defs><path id="p4" d="m 0,0 H 15 l 6,4 3,0 6,-4 H 166.40 v 25 H 29.5 l -6,4 -3,0 -6,-4 H 0 z"/><clipPath id="cp4"><use href="#p4"/></clipPath></defs><use href="#p4" transform="translate(1,1)" fill="#62426a"/><g clip-path="url(#cp4)"><use href="#p4" fill="#a387aa"/><use href="#p4" transform="translate(0.6,0.6)" fill="#7b5385"/></g><text x="10.00" y="17.39" class="bt">call </text>
<rect x="41.08" y="5.30" width="77.71" height="16" rx="4" ry="4" class="er"/>
<text x="46.08" y="17.39" class="et">sound_1 <tspan fill="#7b5385">▾</tspan></text>
<text x="123.80" y="17.39" class="bt">.Play</text></g><g transform="translate(37.31,78.00)"><defs><path id="p5" d="m 0,0 H 15 l 6,4 3,0 6,-4 H 262.89 v 5 c 0,10 -8,-8 -8,7.5 s 8,-2.5 8,7.5 v 5 H 29.5 l -6,4 -3,0 -6,-4 H 8 a 8,8 0 0,1 -8,-8 z"/><clipPath id="cp5"><use href="#p5"/></clipPath></defs><use href="#p5" transform="translate(1,1)" fill="#2a5538"/><g clip-path="url(#cp5)"><use href="#p5" fill="#72977e"/><use href="#p5" transform="translate(0.6,0.6)" fill="#356a46"/></g><text x="10.00" y="18.01" class="bt">set </text>
<rect x="38.64" y="5.30" width="122.53" height="16" rx="4" ry="4" class="er"/>
<text x="43.64" y="18.01" class="et">nombre_animal <tspan fill="#356a46">▾</tspan></text>
<text x="166.17" y="18.01" class="bt">.</text>
<rect x="175.25" y="5.30" width="48.34" height="16" rx="4" ry="4" class="er"/>
<text x="180.25" y="18.01" class="et">Text <tspan fill="#356a46">▾</tspan></text>
<text x="228.58" y="18.01" class="bt"> to</text></g><g transform="translate(301.20,78.00)"><defs><path id="p6" d="m 0,0 H 84.01 v 25 H 0 V 20 c 0,-10 -8,8 -8,-7.5 s 8,2.5 8,-7.5 z"/><clipPath id="cp6"><use href="#p6"/></clipPath></defs><use href="#p6" transform="translate(1,1)" fill="#881d4d"/><g clip-path="url(#cp6)"><use href="#p6" fill="#c46690"/><use href="#p6" transform="translate(0.6,0.6)" fill="#aa2460"/></g><text x="10.00" y="18.01" class="bt">“</text>
<rect x="19.88" y="5.30" width="44.24" height="16" rx="4" ry="4" class="er"/>
<text x="24.88" y="18.01" class="et">burro</text>
<text x="69.12" y="18.01" class="bt">”</text></g></g><g transform="translate(68.55,142.25) scale(0.8265)"><g transform="translate(0.00,0.00)"><defs><path id="p7" d="m 0,8 A 8,8 0 0,1 8,0 H 176.16 v 25 H 66.31 l -6,4 -3,0 -6,-4 h -7 a 8,8 0 0,0 -8,8 v 65.50 a 8,8 0 0,0 8,8 H 176.16 v 10 H 8 a 8,8 0 0,1 -8,-8 z"/><clipPath id="cp7"><use href="#p7"/></clipPath></defs><use href="#p7" transform="translate(1,1)" fill="#887230"/><g clip-path="url(#cp7)"><use href="#p7" fill="#c4b076"/><use href="#p7" transform="translate(0.6,0.6)" fill="#aa8e3c"/></g><text x="10.00" y="17.85" class="bt">when </text>
<rect x="54.14" y="5.30" width="71.18" height="16" rx="4" ry="4" class="er"/>
<text x="59.14" y="17.85" class="et">Caballo <tspan fill="#aa8e3c">▾</tspan></text>
<text x="130.31" y="17.85" class="bt">.Click</text><text x="10.00" y="42.04" class="bt">do</text></g><g transform="translate(37.31,26.00)"><defs><path id="p8" d="m 0,8 A 8,8 0 0,1 8,0 H 15 l 6,4 3,0 6,-4 H 237.65 v 5 c 0,10 -8,-8 -8,7.5 s 8,-2.5 8,7.5 v 5 H 29.5 l -6,4 -3,0 -6,-4 H 0 z"/><clipPath id="cp8"><use href="#p8"/></clipPath></defs><use href="#p8" transform="translate(1,1)" fill="#2a5538"/><g clip-path="url(#cp8)"><use href="#p8" fill="#72977e"/><use href="#p8" transform="translate(0.6,0.6)" fill="#356a46"/></g><text x="10.00" y="17.25" class="bt">set </text>
<rect x="38.64" y="5.30" width="77.71" height="16" rx="4" ry="4" class="er"/>
<text x="43.64" y="17.25" class="et">sound_1 <tspan fill="#356a46">▾</tspan></text>
<text x="121.35" y="17.25" class="bt">.</text>
<rect x="130.43" y="5.30" width="67.91" height="16" rx="4" ry="4" class="er"/>
<text x="135.43" y="17.25" class="et">Source <tspan fill="#356a46">▾</tspan></text>
<text x="203.34" y="17.25" class="bt"> to</text></g><g transform="translate(275.96,26.00)"><defs><path id="p9" d="m 0,0 H 128.85 v 25 H 0 V 20 c 0,-10 -8,8 -8,-7.5 s 8,2.5 8,-7.5 z"/><clipPath id="cp9"><use href="#p9"/></clipPath></defs><use href="#p9" transform="translate(1,1)" fill="#881d4d"/><g clip-path="url(#cp9)"><use href="#p9" fill="#c46690"/><use href="#p9" transform="translate(0.6,0.6)" fill="#aa2460"/></g><text x="10.00" y="17.25" class="bt">“</text>
<rect x="19.88" y="5.30" width="89.09" height="16" rx="4" ry="4" class="er"/>
<text x="24.88" y="17.25" class="et">caballo.mp3</text>
<text x="113.97" y="17.25" class="bt">”</text></g><g transform="translate(37.31,52.00)"><defs><path id="p10" d="m 0,0 H 15 l 6,4 3,0 6,-4 H 166.40 v 25 H 29.5 l -6,4 -3,0 -6,-4 H 0 z"/><clipPath id="cp10"><use href="#p10"/></clipPath></defs><use href="#p10" transform="translate(1,1)" fill="#62426a"/><g clip-path="url(#cp10)"><use href="#p10" fill="#a387aa"/><use href="#p10" transform="translate(0.6,0.6)" fill="#7b5385"/></g><text x="10.00" y="17.87" class="bt">call </text>
<rect x="41.08" y="5.30" width="77.71" height="16" rx="4" ry="4" class="er"/>
<text x="46.08" y="17.87" class="et">sound_1 <tspan fill="#7b5385">▾</tspan></text>
<text x="123.80" y="17.87" class="bt">.Play</text></g><g transform="translate(37.31,78.00)"><defs><path id="p11" d="m 0,0 H 15 l 6,4 3,0 6,-4 H 262.89 v 5 c 0,10 -8,-8 -8,7.5 s 8,-2.5 8,7.5 v 5 H 29.5 l -6,4 -3,0 -6,-4 H 8 a 8,8 0 0,1 -8,-8 z"/><clipPath id="cp11"><use href="#p11"/></clipPath></defs><use href="#p11" transform="translate(1,1)" fill="#2a5538"/><g clip-path="url(#cp11)"><use href="#p11" fill="#72977e"/><use href="#p11" transform="translate(0.6,0.6)" fill="#356a46"/></g><text x="10.00" y="17.28" class="bt">set </text>
<rect x="38.64" y="5.30" width="122.53" height="16" rx="4" ry="4" class="er"/>
<text x="43.64" y="17.28" class="et">nombre_animal <tspan fill="#356a46">▾</tspan></text>
<text x="166.17" y="17.28" class="bt">.</text>
<rect x="175.25" y="5.30" width="48.34" height="16" rx="4" ry="4" class="er"/>
<text x="180.25" y="17.28" class="et">Text <tspan fill="#356a46">▾</tspan></text>
<text x="228.58" y="17.28" class="bt"> to</text></g><g transform="translate(301.20,78.00)"><defs><path id="p12" d="m 0,0 H 96.25 v 25 H 0 V 20 c 0,-10 -8,8 -8,-7.5 s 8,2.5 8,-7.5 z"/><clipPath id="cp12"><use href="#p12"/></clipPath></defs><use href="#p12" transform="translate(1,1)" fill="#881d4d"/><g clip-path="url(#cp12)"><use href="#p12" fill="#c46690"/><use href="#p12" transform="translate(0.6,0.6)" fill="#aa2460"/></g><text x="10.00" y="17.28" class="bt">“</text>
<rect x="19.88" y="5.30" width="56.48" height="16" rx="4" ry="4" class="er"/>
<text x="24.88" y="17.28" class="et">caballo</text>
<text x="81.36" y="17.28" class="bt">”</text></g></g><g transform="translate(62.30,235.30) scale(0.8265)"><g transform="translate(0.00,0.00)"><defs><path id="p13" d="m 0,8 A 8,8 0 0,1 8,0 H 166.37 v 25 H 66.31 l -6,4 -3,0 -6,-4 h -7 a 8,8 0 0,0 -8,8 v 65.50 a 8,8 0 0,0 8,8 H 166.37 v 10 H 8 a 8,8 0 0,1 -8,-8 z"/><clipPath id="cp13"><use href="#p13"/></clipPath></defs><use href="#p13" transform="translate(1,1)" fill="#887230"/><g clip-path="url(#cp13)"><use href="#p13" fill="#c4b076"/><use href="#p13" transform="translate(0.6,0.6)" fill="#aa8e3c"/></g><text x="10.00" y="17.79" class="bt">when </text>
<rect x="54.14" y="5.30" width="61.38" height="16" rx="4" ry="4" class="er"/>
<text x="59.14" y="17.79" class="et">Cerdo <tspan fill="#aa8e3c">▾</tspan></text>
<text x="120.52" y="17.79" class="bt">.Click</text><text x="10.00" y="41.98" class="bt">do</text></g><g transform="translate(37.31,26.00)"><defs><path id="p14" d="m 0,8 A 8,8 0 0,1 8,0 H 15 l 6,4 3,0 6,-4 H 237.65 v 5 c 0,10 -8,-8 -8,7.5 s 8,-2.5 8,7.5 v 5 H 29.5 l -6,4 -3,0 -6,-4 H 0 z"/><clipPath id="cp14"><use href="#p14"/></clipPath></defs><use href="#p14" transform="translate(1,1)" fill="#2a5538"/><g clip-path="url(#cp14)"><use href="#p14" fill="#72977e"/><use href="#p14" transform="translate(0.6,0.6)" fill="#356a46"/></g><text x="10.00" y="17.19" class="bt">set </text>
<rect x="38.64" y="5.30" width="77.71" height="16" rx="4" ry="4" class="er"/>
<text x="43.64" y="17.19" class="et">sound_1 <tspan fill="#356a46">▾</tspan></text>
<text x="121.35" y="17.19" class="bt">.</text>
<rect x="130.43" y="5.30" width="67.91" height="16" rx="4" ry="4" class="er"/>
<text x="135.43" y="17.19" class="et">Source <tspan fill="#356a46">▾</tspan></text>
<text x="203.34" y="17.19" class="bt"> to</text></g><g transform="translate(275.96,26.00)"><defs><path id="p15" d="m 0,0 H 119.06 v 25 H 0 V 20 c 0,-10 -8,8 -8,-7.5 s 8,2.5 8,-7.5 z"/><clipPath id="cp15"><use href="#p15"/></clipPath></defs><use href="#p15" transform="translate(1,1)" fill="#881d4d"/><g clip-path="url(#cp15)"><use href="#p15" fill="#c46690"/><use href="#p15" transform="translate(0.6,0.6)" fill="#aa2460"/></g><text x="10.00" y="17.19" class="bt">“</text>
<rect x="19.88" y="5.30" width="79.30" height="16" rx="4" ry="4" class="er"/>
<text x="24.88" y="17.19" class="et">cerdo.mp3</text>
<text x="104.18" y="17.19" class="bt">”</text></g><g transform="translate(37.31,52.00)"><defs><path id="p16" d="m 0,0 H 15 l 6,4 3,0 6,-4 H 166.40 v 25 H 29.5 l -6,4 -3,0 -6,-4 H 0 z"/><clipPath id="cp16"><use href="#p16"/></clipPath></defs><use href="#p16" transform="translate(1,1)" fill="#62426a"/><g clip-path="url(#cp16)"><use href="#p16" fill="#a387aa"/><use href="#p16" transform="translate(0.6,0.6)" fill="#7b5385"/></g><text x="10.00" y="17.81" class="bt">call </text>
<rect x="41.08" y="5.30" width="77.71" height="16" rx="4" ry="4" class="er"/>
<text x="46.08" y="17.81" class="et">sound_1 <tspan fill="#7b5385">▾</tspan></text>
<text x="123.80" y="17.81" class="bt">.Play</text></g><g transform="translate(37.31,78.00)"><defs><path id="p17" d="m 0,0 H 15 l 6,4 3,0 6,-4 H 262.89 v 5 c 0,10 -8,-8 -8,7.5 s 8,-2.5 8,7.5 v 5 H 29.5 l -6,4 -3,0 -6,-4 H 8 a 8,8 0 0,1 -8,-8 z"/><clipPath id="cp17"><use href="#p17"/></clipPath></defs><use href="#p17" transform="translate(1,1)" fill="#2a5538"/><g clip-path="url(#cp17)"><use href="#p17" fill="#72977e"/><use href="#p17" transform="translate(0.6,0.6)" fill="#356a46"/></g><text x="10.00" y="17.22" class="bt">set </text>
<rect x="38.64" y="5.30" width="122.53" height="16" rx="4" ry="4" class="er"/>
<text x="43.64" y="17.22" class="et">nombre_animal <tspan fill="#356a46">▾</tspan></text>
<text x="166.17" y="17.22" class="bt">.</text>
<rect x="175.25" y="5.30" width="48.34" height="16" rx="4" ry="4" class="er"/>
<text x="180.25" y="17.22" class="et">Text <tspan fill="#356a46">▾</tspan></text>
<text x="228.58" y="17.22" class="bt"> to</text></g><g transform="translate(301.20,78.00)"><defs><path id="p18" d="m 0,0 H 86.46 v 25 H 0 V 20 c 0,-10 -8,8 -8,-7.5 s 8,2.5 8,-7.5 z"/><clipPath id="cp18"><use href="#p18"/></clipPath></defs><use href="#p18" transform="translate(1,1)" fill="#881d4d"/><g clip-path="url(#cp18)"><use href="#p18" fill="#c46690"/><use href="#p18" transform="translate(0.6,0.6)" fill="#aa2460"/></g><text x="10.00" y="17.22" class="bt">“</text>
<rect x="19.88" y="5.30" width="46.69" height="16" rx="4" ry="4" class="er"/>
<text x="24.88" y="17.22" class="et">cerdo</text>
<text x="71.57" y="17.22" class="bt">”</text></g></g><g transform="translate(67.30,335.90) scale(0.8265)"><g transform="translate(0.00,0.00)"><defs><path id="p19" d="m 0,8 A 8,8 0 0,1 8,0 H 172.08 v 25 H 66.31 l -6,4 -3,0 -6,-4 h -7 a 8,8 0 0,0 -8,8 v 65.50 a 8,8 0 0,0 8,8 H 172.08 v 10 H 8 a 8,8 0 0,1 -8,-8 z"/><clipPath id="cp19"><use href="#p19"/></clipPath></defs><use href="#p19" transform="translate(1,1)" fill="#887230"/><g clip-path="url(#cp19)"><use href="#p19" fill="#c4b076"/><use href="#p19" transform="translate(0.6,0.6)" fill="#aa8e3c"/></g><text x="10.00" y="17.06" class="bt">when </text>
<rect x="54.14" y="5.30" width="67.09" height="16" rx="4" ry="4" class="er"/>
<text x="59.14" y="17.06" class="et">Gallina <tspan fill="#aa8e3c">▾</tspan></text>
<text x="126.23" y="17.06" class="bt">.Click</text><text x="10.00" y="42.47" class="bt">do</text></g><g transform="translate(37.31,26.00)"><defs><path id="p20" d="m 0,8 A 8,8 0 0,1 8,0 H 15 l 6,4 3,0 6,-4 H 237.65 v 5 c 0,10 -8,-8 -8,7.5 s 8,-2.5 8,7.5 v 5 H 29.5 l -6,4 -3,0 -6,-4 H 0 z"/><clipPath id="cp20"><use href="#p20"/></clipPath></defs><use href="#p20" transform="translate(1,1)" fill="#2a5538"/><g clip-path="url(#cp20)"><use href="#p20" fill="#72977e"/><use href="#p20" transform="translate(0.6,0.6)" fill="#356a46"/></g><text x="10.00" y="17.68" class="bt">set </text>
<rect x="38.64" y="5.30" width="77.71" height="16" rx="4" ry="4" class="er"/>
<text x="43.64" y="17.68" class="et">sound_1 <tspan fill="#356a46">▾</tspan></text>
<text x="121.35" y="17.68" class="bt">.</text>
<rect x="130.43" y="5.30" width="67.91" height="16" rx="4" ry="4" class="er"/>
<text x="135.43" y="17.68" class="et">Source <tspan fill="#356a46">▾</tspan></text>
<text x="203.34" y="17.68" class="bt"> to</text></g><g transform="translate(275.96,26.00)"><defs><path id="p21" d="m 0,0 H 124.78 v 25 H 0 V 20 c 0,-10 -8,8 -8,-7.5 s 8,2.5 8,-7.5 z"/><clipPath id="cp21"><use href="#p21"/></clipPath></defs><use href="#p21" transform="translate(1,1)" fill="#881d4d"/><g clip-path="url(#cp21)"><use href="#p21" fill="#c46690"/><use href="#p21" transform="translate(0.6,0.6)" fill="#aa2460"/></g><text x="10.00" y="17.68" class="bt">“</text>
<rect x="19.88" y="5.30" width="85.01" height="16" rx="4" ry="4" class="er"/>
<text x="24.88" y="17.68" class="et">gallina.mp3</text>
<text x="109.90" y="17.68" class="bt">”</text></g><g transform="translate(37.31,52.00)"><defs><path id="p22" d="m 0,0 H 15 l 6,4 3,0 6,-4 H 166.40 v 25 H 29.5 l -6,4 -3,0 -6,-4 H 0 z"/><clipPath id="cp22"><use href="#p22"/></clipPath></defs><use href="#p22" transform="translate(1,1)" fill="#62426a"/><g clip-path="url(#cp22)"><use href="#p22" fill="#a387aa"/><use href="#p22" transform="translate(0.6,0.6)" fill="#7b5385"/></g><text x="10.00" y="17.09" class="bt">call </text>
<rect x="41.08" y="5.30" width="77.71" height="16" rx="4" ry="4" class="er"/>
<text x="46.08" y="17.09" class="et">sound_1 <tspan fill="#7b5385">▾</tspan></text>
<text x="123.80" y="17.09" class="bt">.Play</text></g><g transform="translate(37.31,78.00)"><defs><path id="p23" d="m 0,0 H 15 l 6,4 3,0 6,-4 H 262.89 v 5 c 0,10 -8,-8 -8,7.5 s 8,-2.5 8,7.5 v 5 H 29.5 l -6,4 -3,0 -6,-4 H 8 a 8,8 0 0,1 -8,-8 z"/><clipPath id="cp23"><use href="#p23"/></clipPath></defs><use href="#p23" transform="translate(1,1)" fill="#2a5538"/><g clip-path="url(#cp23)"><use href="#p23" fill="#72977e"/><use href="#p23" transform="translate(0.6,0.6)" fill="#356a46"/></g><text x="10.00" y="17.70" class="bt">set </text>
<rect x="38.64" y="5.30" width="122.53" height="16" rx="4" ry="4" class="er"/>
<text x="43.64" y="17.70" class="et">nombre_animal <tspan fill="#356a46">▾</tspan></text>
<text x="166.17" y="17.70" class="bt">.</text>
<rect x="175.25" y="5.30" width="48.34" height="16" rx="4" ry="4" class="er"/>
<text x="180.25" y="17.70" class="et">Text <tspan fill="#356a46">▾</tspan></text>
<text x="228.58" y="17.70" class="bt"> to</text></g><g transform="translate(301.20,78.00)"><defs><path id="p24" d="m 0,0 H 92.17 v 25 H 0 V 20 c 0,-10 -8,8 -8,-7.5 s 8,2.5 8,-7.5 z"/><clipPath id="cp24"><use href="#p24"/></clipPath></defs><use href="#p24" transform="translate(1,1)" fill="#881d4d"/><g clip-path="url(#cp24)"><use href="#p24" fill="#c46690"/><use href="#p24" transform="translate(0.6,0.6)" fill="#aa2460"/></g><text x="10.00" y="17.70" class="bt">“</text>
<rect x="19.88" y="5.30" width="52.40" height="16" rx="4" ry="4" class="er"/>
<text x="24.88" y="17.70" class="et">gallina</text>
<text x="77.29" y="17.70" class="bt">”</text></g></g><g transform="translate(70.70,443.10) scale(0.8265)"><g transform="translate(0.00,0.00)"><defs><path id="p25" d="m 0,8 A 8,8 0 0,1 8,0 H 160.67 v 25 H 66.31 l -6,4 -3,0 -6,-4 h -7 a 8,8 0 0,0 -8,8 v 65.50 a 8,8 0 0,0 8,8 H 160.67 v 10 H 8 a 8,8 0 0,1 -8,-8 z"/><clipPath id="cp25"><use href="#p25"/></clipPath></defs><use href="#p25" transform="translate(1,1)" fill="#887230"/><g clip-path="url(#cp25)"><use href="#p25" fill="#c4b076"/><use href="#p25" transform="translate(0.6,0.6)" fill="#aa8e3c"/></g><text x="10.00" y="18.03" class="bt">when </text>
<rect x="54.14" y="5.30" width="55.68" height="16" rx="4" ry="4" class="er"/>
<text x="59.14" y="18.03" class="et">Gallo <tspan fill="#aa8e3c">▾</tspan></text>
<text x="114.82" y="18.03" class="bt">.Click</text><text x="10.00" y="42.23" class="bt">do</text></g><g transform="translate(37.31,26.00)"><defs><path id="p26" d="m 0,8 A 8,8 0 0,1 8,0 H 15 l 6,4 3,0 6,-4 H 237.65 v 5 c 0,10 -8,-8 -8,7.5 s 8,-2.5 8,7.5 v 5 H 29.5 l -6,4 -3,0 -6,-4 H 0 z"/><clipPath id="cp26"><use href="#p26"/></clipPath></defs><use href="#p26" transform="translate(1,1)" fill="#2a5538"/><g clip-path="url(#cp26)"><use href="#p26" fill="#72977e"/><use href="#p26" transform="translate(0.6,0.6)" fill="#356a46"/></g><text x="10.00" y="17.44" class="bt">set </text>
<rect x="38.64" y="5.30" width="77.71" height="16" rx="4" ry="4" class="er"/>
<text x="43.64" y="17.44" class="et">sound_1 <tspan fill="#356a46">▾</tspan></text>
<text x="121.35" y="17.44" class="bt">.</text>
<rect x="130.43" y="5.30" width="67.91" height="16" rx="4" ry="4" class="er"/>
<text x="135.43" y="17.44" class="et">Source <tspan fill="#356a46">▾</tspan></text>
<text x="203.34" y="17.44" class="bt"> to</text></g><g transform="translate(275.96,26.00)"><defs><path id="p27" d="m 0,0 H 113.36 v 25 H 0 V 20 c 0,-10 -8,8 -8,-7.5 s 8,2.5 8,-7.5 z"/><clipPath id="cp27"><use href="#p27"/></clipPath></defs><use href="#p27" transform="translate(1,1)" fill="#881d4d"/><g clip-path="url(#cp27)"><use href="#p27" fill="#c46690"/><use href="#p27" transform="translate(0.6,0.6)" fill="#aa2460"/></g><text x="10.00" y="17.44" class="bt">“</text>
<rect x="19.88" y="5.30" width="73.60" height="16" rx="4" ry="4" class="er"/>
<text x="24.88" y="17.44" class="et">gallo.mp3</text>
<text x="98.48" y="17.44" class="bt">”</text></g><g transform="translate(37.31,52.00)"><defs><path id="p28" d="m 0,0 H 15 l 6,4 3,0 6,-4 H 166.40 v 25 H 29.5 l -6,4 -3,0 -6,-4 H 0 z"/><clipPath id="cp28"><use href="#p28"/></clipPath></defs><use href="#p28" transform="translate(1,1)" fill="#62426a"/><g clip-path="url(#cp28)"><use href="#p28" fill="#a387aa"/><use href="#p28" transform="translate(0.6,0.6)" fill="#7b5385"/></g><text x="10.00" y="18.05" class="bt">call </text>
<rect x="41.08" y="5.30" width="77.71" height="16" rx="4" ry="4" class="er"/>
<text x="46.08" y="18.05" class="et">sound_1 <tspan fill="#7b5385">▾</tspan></text>
<text x="123.80" y="18.05" class="bt">.Play</text></g><g transform="translate(37.31,78.00)"><defs><path id="p29" d="m 0,0 H 15 l 6,4 3,0 6,-4 H 262.89 v 5 c 0,10 -8,-8 -8,7.5 s 8,-2.5 8,7.5 v 5 H 29.5 l -6,4 -3,0 -6,-4 H 8 a 8,8 0 0,1 -8,-8 z"/><clipPath id="cp29"><use href="#p29"/></clipPath></defs><use href="#p29" transform="translate(1,1)" fill="#2a5538"/><g clip-path="url(#cp29)"><use href="#p29" fill="#72977e"/><use href="#p29" transform="translate(0.6,0.6)" fill="#356a46"/></g><text x="10.00" y="17.46" class="bt">set </text>
<rect x="38.64" y="5.30" width="122.53" height="16" rx="4" ry="4" class="er"/>
<text x="43.64" y="17.46" class="et">nombre_animal <tspan fill="#356a46">▾</tspan></text>
<text x="166.17" y="17.46" class="bt">.</text>
<rect x="175.25" y="5.30" width="48.34" height="16" rx="4" ry="4" class="er"/>
<text x="180.25" y="17.46" class="et">Text <tspan fill="#356a46">▾</tspan></text>
<text x="228.58" y="17.46" class="bt"> to</text></g><g transform="translate(301.20,78.00)"><defs><path id="p30" d="m 0,0 H 80.76 v 25 H 0 V 20 c 0,-10 -8,8 -8,-7.5 s 8,2.5 8,-7.5 z"/><clipPath id="cp30"><use href="#p30"/></clipPath></defs><use href="#p30" transform="translate(1,1)" fill="#881d4d"/><g clip-path="url(#cp30)"><use href="#p30" fill="#c46690"/><use href="#p30" transform="translate(0.6,0.6)" fill="#aa2460"/></g><text x="10.00" y="17.46" class="bt">“</text>
<rect x="19.88" y="5.30" width="40.99" height="16" rx="4" ry="4" class="er"/>
<text x="24.88" y="17.46" class="et">gallo</text>
<text x="65.87" y="17.46" class="bt">”</text></g></g><g transform="translate(75.05,548.25) scale(0.8265)"><g transform="translate(0.00,0.00)"><defs><path id="p31" d="m 0,8 A 8,8 0 0,1 8,0 H 166.37 v 25 H 66.31 l -6,4 -3,0 -6,-4 h -7 a 8,8 0 0,0 -8,8 v 65.50 a 8,8 0 0,0 8,8 H 166.37 v 10 H 8 a 8,8 0 0,1 -8,-8 z"/><clipPath id="cp31"><use href="#p31"/></clipPath></defs><use href="#p31" transform="translate(1,1)" fill="#887230"/><g clip-path="url(#cp31)"><use href="#p31" fill="#c4b076"/><use href="#p31" transform="translate(0.6,0.6)" fill="#aa8e3c"/></g><text x="10.00" y="17.85" class="bt">when </text>
<rect x="54.14" y="5.30" width="61.39" height="16" rx="4" ry="4" class="er"/>
<text x="59.14" y="17.85" class="et">Pollito <tspan fill="#aa8e3c">▾</tspan></text>
<text x="120.52" y="17.85" class="bt">.Click</text><text x="10.00" y="42.04" class="bt">do</text></g><g transform="translate(37.31,26.00)"><defs><path id="p32" d="m 0,8 A 8,8 0 0,1 8,0 H 15 l 6,4 3,0 6,-4 H 237.65 v 5 c 0,10 -8,-8 -8,7.5 s 8,-2.5 8,7.5 v 5 H 29.5 l -6,4 -3,0 -6,-4 H 0 z"/><clipPath id="cp32"><use href="#p32"/></clipPath></defs><use href="#p32" transform="translate(1,1)" fill="#2a5538"/><g clip-path="url(#cp32)"><use href="#p32" fill="#72977e"/><use href="#p32" transform="translate(0.6,0.6)" fill="#356a46"/></g><text x="10.00" y="17.25" class="bt">set </text>
<rect x="38.64" y="5.30" width="77.71" height="16" rx="4" ry="4" class="er"/>
<text x="43.64" y="17.25" class="et">sound_1 <tspan fill="#356a46">▾</tspan></text>
<text x="121.35" y="17.25" class="bt">.</text>
<rect x="130.43" y="5.30" width="67.91" height="16" rx="4" ry="4" class="er"/>
<text x="135.43" y="17.25" class="et">Source <tspan fill="#356a46">▾</tspan></text>
<text x="203.34" y="17.25" class="bt"> to</text></g><g transform="translate(275.96,26.00)"><defs><path id="p33" d="m 0,0 H 128.03 v 25 H 0 V 20 c 0,-10 -8,8 -8,-7.5 s 8,2.5 8,-7.5 z"/><clipPath id="cp33"><use href="#p33"/></clipPath></defs><use href="#p33" transform="translate(1,1)" fill="#881d4d"/><g clip-path="url(#cp33)"><use href="#p33" fill="#c46690"/><use href="#p33" transform="translate(0.6,0.6)" fill="#aa2460"/></g><text x="10.00" y="17.25" class="bt">“</text>
<rect x="19.88" y="5.30" width="88.26" height="16" rx="4" ry="4" class="er"/>
<text x="24.88" y="17.25" class="et">pollitos.mp3</text>
<text x="113.15" y="17.25" class="bt">”</text></g><g transform="translate(37.31,52.00)"><defs><path id="p34" d="m 0,0 H 15 l 6,4 3,0 6,-4 H 166.40 v 25 H 29.5 l -6,4 -3,0 -6,-4 H 0 z"/><clipPath id="cp34"><use href="#p34"/></clipPath></defs><use href="#p34" transform="translate(1,1)" fill="#62426a"/><g clip-path="url(#cp34)"><use href="#p34" fill="#a387aa"/><use href="#p34" transform="translate(0.6,0.6)" fill="#7b5385"/></g><text x="10.00" y="17.87" class="bt">call </text>
<rect x="41.08" y="5.30" width="77.71" height="16" rx="4" ry="4" class="er"/>
<text x="46.08" y="17.87" class="et">sound_1 <tspan fill="#7b5385">▾</tspan></text>
<text x="123.80" y="17.87" class="bt">.Play</text></g><g transform="translate(37.31,78.00)"><defs><path id="p35" d="m 0,0 H 15 l 6,4 3,0 6,-4 H 262.89 v 5 c 0,10 -8,-8 -8,7.5 s 8,-2.5 8,7.5 v 5 H 29.5 l -6,4 -3,0 -6,-4 H 8 a 8,8 0 0,1 -8,-8 z"/><clipPath id="cp35"><use href="#p35"/></clipPath></defs><use href="#p35" transform="translate(1,1)" fill="#2a5538"/><g clip-path="url(#cp35)"><use href="#p35" fill="#72977e"/><use href="#p35" transform="translate(0.6,0.6)" fill="#356a46"/></g><text x="10.00" y="17.28" class="bt">set </text>
<rect x="38.64" y="5.30" width="122.53" height="16" rx="4" ry="4" class="er"/>
<text x="43.64" y="17.28" class="et">nombre_animal <tspan fill="#356a46">▾</tspan></text>
<text x="166.17" y="17.28" class="bt">.</text>
<rect x="175.25" y="5.30" width="48.34" height="16" rx="4" ry="4" class="er"/>
<text x="180.25" y="17.28" class="et">Text <tspan fill="#356a46">▾</tspan></text>
<text x="228.58" y="17.28" class="bt"> to</text></g><g transform="translate(301.20,78.00)"><defs><path id="p36" d="m 0,0 H 95.42 v 25 H 0 V 20 c 0,-10 -8,8 -8,-7.5 s 8,2.5 8,-7.5 z"/><clipPath id="cp36"><use href="#p36"/></clipPath></defs><use href="#p36" transform="translate(1,1)" fill="#881d4d"/><g clip-path="url(#cp36)"><use href="#p36" fill="#c46690"/><use href="#p36" transform="translate(0.6,0.6)" fill="#aa2460"/></g><text x="10.00" y="17.28" class="bt">“</text>
<rect x="19.88" y="5.30" width="55.66" height="16" rx="4" ry="4" class="er"/>
<text x="24.88" y="17.28" class="et">pollitos</text>
<text x="80.54" y="17.28" class="bt">”</text></g></g><g transform="translate(485.55,17.00) scale(0.8265)"><g transform="translate(0.00,0.00)"><defs><path id="p37" d="m 0,8 A 8,8 0 0,1 8,0 H 158.22 v 25 H 66.31 l -6,4 -3,0 -6,-4 h -7 a 8,8 0 0,0 -8,8 v 65.50 a 8,8 0 0,0 8,8 H 158.22 v 10 H 8 a 8,8 0 0,1 -8,-8 z"/><clipPath id="cp37"><use href="#p37"/></clipPath></defs><use href="#p37" transform="translate(1,1)" fill="#887230"/><g clip-path="url(#cp37)"><use href="#p37" fill="#c4b076"/><use href="#p37" transform="translate(0.6,0.6)" fill="#aa8e3c"/></g><text x="10.00" y="16.94" class="bt">when </text>
<rect x="54.14" y="5.30" width="53.23" height="16" rx="4" ry="4" class="er"/>
<text x="59.14" y="16.94" class="et">Gato <tspan fill="#aa8e3c">▾</tspan></text>
<text x="112.37" y="16.94" class="bt">.Click</text><text x="10.00" y="42.35" class="bt">do</text></g><g transform="translate(37.31,26.00)"><defs><path id="p38" d="m 0,8 A 8,8 0 0,1 8,0 H 15 l 6,4 3,0 6,-4 H 237.65 v 5 c 0,10 -8,-8 -8,7.5 s 8,-2.5 8,7.5 v 5 H 29.5 l -6,4 -3,0 -6,-4 H 0 z"/><clipPath id="cp38"><use href="#p38"/></clipPath></defs><use href="#p38" transform="translate(1,1)" fill="#2a5538"/><g clip-path="url(#cp38)"><use href="#p38" fill="#72977e"/><use href="#p38" transform="translate(0.6,0.6)" fill="#356a46"/></g><text x="10.00" y="17.56" class="bt">set </text>
<rect x="38.64" y="5.30" width="77.71" height="16" rx="4" ry="4" class="er"/>
<text x="43.64" y="17.56" class="et">sound_1 <tspan fill="#356a46">▾</tspan></text>
<text x="121.35" y="17.56" class="bt">.</text>
<rect x="130.43" y="5.30" width="67.91" height="16" rx="4" ry="4" class="er"/>
<text x="135.43" y="17.56" class="et">Source <tspan fill="#356a46">▾</tspan></text>
<text x="203.34" y="17.56" class="bt"> to</text></g><g transform="translate(275.96,26.00)"><defs><path id="p39" d="m 0,0 H 110.92 v 25 H 0 V 20 c 0,-10 -8,8 -8,-7.5 s 8,2.5 8,-7.5 z"/><clipPath id="cp39"><use href="#p39"/></clipPath></defs><use href="#p39" transform="translate(1,1)" fill="#881d4d"/><g clip-path="url(#cp39)"><use href="#p39" fill="#c46690"/><use href="#p39" transform="translate(0.6,0.6)" fill="#aa2460"/></g><text x="10.00" y="17.56" class="bt">“</text>
<rect x="19.88" y="5.30" width="71.15" height="16" rx="4" ry="4" class="er"/>
<text x="24.88" y="17.56" class="et">gato.mp3</text>
<text x="96.04" y="17.56" class="bt">”</text></g><g transform="translate(37.31,52.00)"><defs><path id="p40" d="m 0,0 H 15 l 6,4 3,0 6,-4 H 166.40 v 25 H 29.5 l -6,4 -3,0 -6,-4 H 0 z"/><clipPath id="cp40"><use href="#p40"/></clipPath></defs><use href="#p40" transform="translate(1,1)" fill="#62426a"/><g clip-path="url(#cp40)"><use href="#p40" fill="#a387aa"/><use href="#p40" transform="translate(0.6,0.6)" fill="#7b5385"/></g><text x="10.00" y="16.97" class="bt">call </text>
<rect x="41.08" y="5.30" width="77.71" height="16" rx="4" ry="4" class="er"/>
<text x="46.08" y="16.97" class="et">sound_1 <tspan fill="#7b5385">▾</tspan></text>
<text x="123.80" y="16.97" class="bt">.Play</text></g><g transform="translate(37.31,78.00)"><defs><path id="p41" d="m 0,0 H 15 l 6,4 3,0 6,-4 H 262.89 v 5 c 0,10 -8,-8 -8,7.5 s 8,-2.5 8,7.5 v 5 H 29.5 l -6,4 -3,0 -6,-4 H 8 a 8,8 0 0,1 -8,-8 z"/><clipPath id="cp41"><use href="#p41"/></clipPath></defs><use href="#p41" transform="translate(1,1)" fill="#2a5538"/><g clip-path="url(#cp41)"><use href="#p41" fill="#72977e"/><use href="#p41" transform="translate(0.6,0.6)" fill="#356a46"/></g><text x="10.00" y="17.58" class="bt">set </text>
<rect x="38.64" y="5.30" width="122.53" height="16" rx="4" ry="4" class="er"/>
<text x="43.64" y="17.58" class="et">nombre_animal <tspan fill="#356a46">▾</tspan></text>
<text x="166.17" y="17.58" class="bt">.</text>
<rect x="175.25" y="5.30" width="48.34" height="16" rx="4" ry="4" class="er"/>
<text x="180.25" y="17.58" class="et">Text <tspan fill="#356a46">▾</tspan></text>
<text x="228.58" y="17.58" class="bt"> to</text></g><g transform="translate(301.20,78.00)"><defs><path id="p42" d="m 0,0 H 78.31 v 25 H 0 V 20 c 0,-10 -8,8 -8,-7.5 s 8,2.5 8,-7.5 z"/><clipPath id="cp42"><use href="#p42"/></clipPath></defs><use href="#p42" transform="translate(1,1)" fill="#881d4d"/><g clip-path="url(#cp42)"><use href="#p42" fill="#c46690"/><use href="#p42" transform="translate(0.6,0.6)" fill="#aa2460"/></g><text x="10.00" y="17.58" class="bt">“</text>
<rect x="19.88" y="5.30" width="38.55" height="16" rx="4" ry="4" class="er"/>
<text x="24.88" y="17.58" class="et">gato</text>
<text x="63.43" y="17.58" class="bt">”</text></g></g><g transform="translate(487.20,121.80) scale(0.8265)"><g transform="translate(0.00,0.00)"><defs><path id="p43" d="m 0,8 A 8,8 0 0,1 8,0 H 164.74 v 25 H 66.31 l -6,4 -3,0 -6,-4 h -7 a 8,8 0 0,0 -8,8 v 65.50 a 8,8 0 0,0 8,8 H 164.74 v 10 H 8 a 8,8 0 0,1 -8,-8 z"/><clipPath id="cp43"><use href="#p43"/></clipPath></defs><use href="#p43" transform="translate(1,1)" fill="#887230"/><g clip-path="url(#cp43)"><use href="#p43" fill="#c4b076"/><use href="#p43" transform="translate(0.6,0.6)" fill="#aa8e3c"/></g><text x="10.00" y="17.18" class="bt">when </text>
<rect x="54.14" y="5.30" width="59.75" height="16" rx="4" ry="4" class="er"/>
<text x="59.14" y="17.18" class="et">Oveja <tspan fill="#aa8e3c">▾</tspan></text>
<text x="118.89" y="17.18" class="bt">.Click</text><text x="10.00" y="42.59" class="bt">do</text></g><g transform="translate(37.31,26.00)"><defs><path id="p44" d="m 0,8 A 8,8 0 0,1 8,0 H 15 l 6,4 3,0 6,-4 H 237.65 v 5 c 0,10 -8,-8 -8,7.5 s 8,-2.5 8,7.5 v 5 H 29.5 l -6,4 -3,0 -6,-4 H 0 z"/><clipPath id="cp44"><use href="#p44"/></clipPath></defs><use href="#p44" transform="translate(1,1)" fill="#2a5538"/><g clip-path="url(#cp44)"><use href="#p44" fill="#72977e"/><use href="#p44" transform="translate(0.6,0.6)" fill="#356a46"/></g><text x="10.00" y="17.80" class="bt">set </text>
<rect x="38.64" y="5.30" width="77.71" height="16" rx="4" ry="4" class="er"/>
<text x="43.64" y="17.80" class="et">sound_1 <tspan fill="#356a46">▾</tspan></text>
<text x="121.35" y="17.80" class="bt">.</text>
<rect x="130.43" y="5.30" width="67.91" height="16" rx="4" ry="4" class="er"/>
<text x="135.43" y="17.80" class="et">Source <tspan fill="#356a46">▾</tspan></text>
<text x="203.34" y="17.80" class="bt"> to</text></g><g transform="translate(275.96,26.00)"><defs><path id="p45" d="m 0,0 H 117.44 v 25 H 0 V 20 c 0,-10 -8,8 -8,-7.5 s 8,2.5 8,-7.5 z"/><clipPath id="cp45"><use href="#p45"/></clipPath></defs><use href="#p45" transform="translate(1,1)" fill="#881d4d"/><g clip-path="url(#cp45)"><use href="#p45" fill="#c46690"/><use href="#p45" transform="translate(0.6,0.6)" fill="#aa2460"/></g><text x="10.00" y="17.80" class="bt">“</text>
<rect x="19.88" y="5.30" width="77.67" height="16" rx="4" ry="4" class="er"/>
<text x="24.88" y="17.80" class="et">oveja.mp3</text>
<text x="102.55" y="17.80" class="bt">”</text></g><g transform="translate(37.31,52.00)"><defs><path id="p46" d="m 0,0 H 15 l 6,4 3,0 6,-4 H 166.40 v 25 H 29.5 l -6,4 -3,0 -6,-4 H 0 z"/><clipPath id="cp46"><use href="#p46"/></clipPath></defs><use href="#p46" transform="translate(1,1)" fill="#62426a"/><g clip-path="url(#cp46)"><use href="#p46" fill="#a387aa"/><use href="#p46" transform="translate(0.6,0.6)" fill="#7b5385"/></g><text x="10.00" y="17.21" class="bt">call </text>
<rect x="41.08" y="5.30" width="77.71" height="16" rx="4" ry="4" class="er"/>
<text x="46.08" y="17.21" class="et">sound_1 <tspan fill="#7b5385">▾</tspan></text>
<text x="123.80" y="17.21" class="bt">.Play</text></g><g transform="translate(37.31,78.00)"><defs><path id="p47" d="m 0,0 H 15 l 6,4 3,0 6,-4 H 262.89 v 5 c 0,10 -8,-8 -8,7.5 s 8,-2.5 8,7.5 v 5 H 29.5 l -6,4 -3,0 -6,-4 H 8 a 8,8 0 0,1 -8,-8 z"/><clipPath id="cp47"><use href="#p47"/></clipPath></defs><use href="#p47" transform="translate(1,1)" fill="#2a5538"/><g clip-path="url(#cp47)"><use href="#p47" fill="#72977e"/><use href="#p47" transform="translate(0.6,0.6)" fill="#356a46"/></g><text x="10.00" y="17.83" class="bt">set </text>
<rect x="38.64" y="5.30" width="122.53" height="16" rx="4" ry="4" class="er"/>
<text x="43.64" y="17.83" class="et">nombre_animal <tspan fill="#356a46">▾</tspan></text>
<text x="166.17" y="17.83" class="bt">.</text>
<rect x="175.25" y="5.30" width="48.34" height="16" rx="4" ry="4" class="er"/>
<text x="180.25" y="17.83" class="et">Text <tspan fill="#356a46">▾</tspan></text>
<text x="228.58" y="17.83" class="bt"> to</text></g><g transform="translate(301.20,78.00)"><defs><path id="p48" d="m 0,0 H 84.83 v 25 H 0 V 20 c 0,-10 -8,8 -8,-7.5 s 8,2.5 8,-7.5 z"/><clipPath id="cp48"><use href="#p48"/></clipPath></defs><use href="#p48" transform="translate(1,1)" fill="#881d4d"/><g clip-path="url(#cp48)"><use href="#p48" fill="#c46690"/><use href="#p48" transform="translate(0.6,0.6)" fill="#aa2460"/></g><text x="10.00" y="17.83" class="bt">“</text>
<rect x="19.88" y="5.30" width="45.06" height="16" rx="4" ry="4" class="er"/>
<text x="24.88" y="17.83" class="et">oveja</text>
<text x="69.95" y="17.83" class="bt">”</text></g></g><g transform="translate(492.80,227.60) scale(0.8265)"><g transform="translate(0.00,0.00)"><defs><path id="p49" d="m 0,8 A 8,8 0 0,1 8,0 H 156.60 v 25 H 66.31 l -6,4 -3,0 -6,-4 h -7 a 8,8 0 0,0 -8,8 v 65.50 a 8,8 0 0,0 8,8 H 156.60 v 10 H 8 a 8,8 0 0,1 -8,-8 z"/><clipPath id="cp49"><use href="#p49"/></clipPath></defs><use href="#p49" transform="translate(1,1)" fill="#887230"/><g clip-path="url(#cp49)"><use href="#p49" fill="#c4b076"/><use href="#p49" transform="translate(0.6,0.6)" fill="#aa8e3c"/></g><text x="10.00" y="17.42" class="bt">when </text>
<rect x="54.14" y="5.30" width="51.61" height="16" rx="4" ry="4" class="er"/>
<text x="59.14" y="17.42" class="et">Pato <tspan fill="#aa8e3c">▾</tspan></text>
<text x="110.75" y="17.42" class="bt">.Click</text><text x="10.00" y="42.83" class="bt">do</text></g><g transform="translate(37.31,26.00)"><defs><path id="p50" d="m 0,8 A 8,8 0 0,1 8,0 H 15 l 6,4 3,0 6,-4 H 237.65 v 5 c 0,10 -8,-8 -8,7.5 s 8,-2.5 8,7.5 v 5 H 29.5 l -6,4 -3,0 -6,-4 H 0 z"/><clipPath id="cp50"><use href="#p50"/></clipPath></defs><use href="#p50" transform="translate(1,1)" fill="#2a5538"/><g clip-path="url(#cp50)"><use href="#p50" fill="#72977e"/><use href="#p50" transform="translate(0.6,0.6)" fill="#356a46"/></g><text x="10.00" y="18.04" class="bt">set </text>
<rect x="38.64" y="5.30" width="77.71" height="16" rx="4" ry="4" class="er"/>
<text x="43.64" y="18.04" class="et">sound_1 <tspan fill="#356a46">▾</tspan></text>
<text x="121.35" y="18.04" class="bt">.</text>
<rect x="130.43" y="5.30" width="67.91" height="16" rx="4" ry="4" class="er"/>
<text x="135.43" y="18.04" class="et">Source <tspan fill="#356a46">▾</tspan></text>
<text x="203.34" y="18.04" class="bt"> to</text></g><g transform="translate(275.96,26.00)"><defs><path id="p51" d="m 0,0 H 110.92 v 25 H 0 V 20 c 0,-10 -8,8 -8,-7.5 s 8,2.5 8,-7.5 z"/><clipPath id="cp51"><use href="#p51"/></clipPath></defs><use href="#p51" transform="translate(1,1)" fill="#881d4d"/><g clip-path="url(#cp51)"><use href="#p51" fill="#c46690"/><use href="#p51" transform="translate(0.6,0.6)" fill="#aa2460"/></g><text x="10.00" y="18.04" class="bt">“</text>
<rect x="19.88" y="5.30" width="71.15" height="16" rx="4" ry="4" class="er"/>
<text x="24.88" y="18.04" class="et">pato.mp3</text>
<text x="96.04" y="18.04" class="bt">”</text></g><g transform="translate(37.31,52.00)"><defs><path id="p52" d="m 0,0 H 15 l 6,4 3,0 6,-4 H 166.40 v 25 H 29.5 l -6,4 -3,0 -6,-4 H 0 z"/><clipPath id="cp52"><use href="#p52"/></clipPath></defs><use href="#p52" transform="translate(1,1)" fill="#62426a"/><g clip-path="url(#cp52)"><use href="#p52" fill="#a387aa"/><use href="#p52" transform="translate(0.6,0.6)" fill="#7b5385"/></g><text x="10.00" y="17.45" class="bt">call </text>
<rect x="41.08" y="5.30" width="77.71" height="16" rx="4" ry="4" class="er"/>
<text x="46.08" y="17.45" class="et">sound_1 <tspan fill="#7b5385">▾</tspan></text>
<text x="123.80" y="17.45" class="bt">.Play</text></g><g transform="translate(37.31,78.00)"><defs><path id="p53" d="m 0,0 H 15 l 6,4 3,0 6,-4 H 262.89 v 5 c 0,10 -8,-8 -8,7.5 s 8,-2.5 8,7.5 v 5 H 29.5 l -6,4 -3,0 -6,-4 H 8 a 8,8 0 0,1 -8,-8 z"/><clipPath id="cp53"><use href="#p53"/></clipPath></defs><use href="#p53" transform="translate(1,1)" fill="#2a5538"/><g clip-path="url(#cp53)"><use href="#p53" fill="#72977e"/><use href="#p53" transform="translate(0.6,0.6)" fill="#356a46"/></g><text x="10.00" y="18.07" class="bt">set </text>
<rect x="38.64" y="5.30" width="122.53" height="16" rx="4" ry="4" class="er"/>
<text x="43.64" y="18.07" class="et">nombre_animal <tspan fill="#356a46">▾</tspan></text>
<text x="166.17" y="18.07" class="bt">.</text>
<rect x="175.25" y="5.30" width="48.34" height="16" rx="4" ry="4" class="er"/>
<text x="180.25" y="18.07" class="et">Text <tspan fill="#356a46">▾</tspan></text>
<text x="228.58" y="18.07" class="bt"> to</text></g><g transform="translate(301.20,78.00)"><defs><path id="p54" d="m 0,0 H 78.31 v 25 H 0 V 20 c 0,-10 -8,8 -8,-7.5 s 8,2.5 8,-7.5 z"/><clipPath id="cp54"><use href="#p54"/></clipPath></defs><use href="#p54" transform="translate(1,1)" fill="#881d4d"/><g clip-path="url(#cp54)"><use href="#p54" fill="#c46690"/><use href="#p54" transform="translate(0.6,0.6)" fill="#aa2460"/></g><text x="10.00" y="18.07" class="bt">“</text>
<rect x="19.88" y="5.30" width="38.55" height="16" rx="4" ry="4" class="er"/>
<text x="24.88" y="18.07" class="et">pato</text>
<text x="63.43" y="18.07" class="bt">”</text></g></g><g transform="translate(488.40,329.10) scale(0.8265)"><g transform="translate(0.00,0.00)"><defs><path id="p55" d="m 0,8 A 8,8 0 0,1 8,0 H 159.86 v 25 H 66.31 l -6,4 -3,0 -6,-4 h -7 a 8,8 0 0,0 -8,8 v 65.50 a 8,8 0 0,0 8,8 H 159.86 v 10 H 8 a 8,8 0 0,1 -8,-8 z"/><clipPath id="cp55"><use href="#p55"/></clipPath></defs><use href="#p55" transform="translate(1,1)" fill="#887230"/><g clip-path="url(#cp55)"><use href="#p55" fill="#c4b076"/><use href="#p55" transform="translate(0.6,0.6)" fill="#aa8e3c"/></g><text x="10.00" y="18.03" class="bt">when </text>
<rect x="54.14" y="5.30" width="54.87" height="16" rx="4" ry="4" class="er"/>
<text x="59.14" y="18.03" class="et">Pavo <tspan fill="#aa8e3c">▾</tspan></text>
<text x="114.01" y="18.03" class="bt">.Click</text><text x="10.00" y="42.23" class="bt">do</text></g><g transform="translate(37.31,26.00)"><defs><path id="p56" d="m 0,8 A 8,8 0 0,1 8,0 H 15 l 6,4 3,0 6,-4 H 237.65 v 5 c 0,10 -8,-8 -8,7.5 s 8,-2.5 8,7.5 v 5 H 29.5 l -6,4 -3,0 -6,-4 H 0 z"/><clipPath id="cp56"><use href="#p56"/></clipPath></defs><use href="#p56" transform="translate(1,1)" fill="#2a5538"/><g clip-path="url(#cp56)"><use href="#p56" fill="#72977e"/><use href="#p56" transform="translate(0.6,0.6)" fill="#356a46"/></g><text x="10.00" y="17.44" class="bt">set </text>
<rect x="38.64" y="5.30" width="77.71" height="16" rx="4" ry="4" class="er"/>
<text x="43.64" y="17.44" class="et">sound_1 <tspan fill="#356a46">▾</tspan></text>
<text x="121.35" y="17.44" class="bt">.</text>
<rect x="130.43" y="5.30" width="67.91" height="16" rx="4" ry="4" class="er"/>
<text x="135.43" y="17.44" class="et">Source <tspan fill="#356a46">▾</tspan></text>
<text x="203.34" y="17.44" class="bt"> to</text></g><g transform="translate(275.96,26.00)"><defs><path id="p57" d="m 0,0 H 114.18 v 25 H 0 V 20 c 0,-10 -8,8 -8,-7.5 s 8,2.5 8,-7.5 z"/><clipPath id="cp57"><use href="#p57"/></clipPath></defs><use href="#p57" transform="translate(1,1)" fill="#881d4d"/><g clip-path="url(#cp57)"><use href="#p57" fill="#c46690"/><use href="#p57" transform="translate(0.6,0.6)" fill="#aa2460"/></g><text x="10.00" y="17.44" class="bt">“</text>
<rect x="19.88" y="5.30" width="74.41" height="16" rx="4" ry="4" class="er"/>
<text x="24.88" y="17.44" class="et">pavo.mp3</text>
<text x="99.30" y="17.44" class="bt">”</text></g><g transform="translate(37.31,52.00)"><defs><path id="p58" d="m 0,0 H 15 l 6,4 3,0 6,-4 H 166.40 v 25 H 29.5 l -6,4 -3,0 -6,-4 H 0 z"/><clipPath id="cp58"><use href="#p58"/></clipPath></defs><use href="#p58" transform="translate(1,1)" fill="#62426a"/><g clip-path="url(#cp58)"><use href="#p58" fill="#a387aa"/><use href="#p58" transform="translate(0.6,0.6)" fill="#7b5385"/></g><text x="10.00" y="18.05" class="bt">call </text>
<rect x="41.08" y="5.30" width="77.71" height="16" rx="4" ry="4" class="er"/>
<text x="46.08" y="18.05" class="et">sound_1 <tspan fill="#7b5385">▾</tspan></text>
<text x="123.80" y="18.05" class="bt">.Play</text></g><g transform="translate(37.31,78.00)"><defs><path id="p59" d="m 0,0 H 15 l 6,4 3,0 6,-4 H 262.89 v 5 c 0,10 -8,-8 -8,7.5 s 8,-2.5 8,7.5 v 5 H 29.5 l -6,4 -3,0 -6,-4 H 8 a 8,8 0 0,1 -8,-8 z"/><clipPath id="cp59"><use href="#p59"/></clipPath></defs><use href="#p59" transform="translate(1,1)" fill="#2a5538"/><g clip-path="url(#cp59)"><use href="#p59" fill="#72977e"/><use href="#p59" transform="translate(0.6,0.6)" fill="#356a46"/></g><text x="10.00" y="17.46" class="bt">set </text>
<rect x="38.64" y="5.30" width="122.53" height="16" rx="4" ry="4" class="er"/>
<text x="43.64" y="17.46" class="et">nombre_animal <tspan fill="#356a46">▾</tspan></text>
<text x="166.17" y="17.46" class="bt">.</text>
<rect x="175.25" y="5.30" width="48.34" height="16" rx="4" ry="4" class="er"/>
<text x="180.25" y="17.46" class="et">Text <tspan fill="#356a46">▾</tspan></text>
<text x="228.58" y="17.46" class="bt"> to</text></g><g transform="translate(301.20,78.00)"><defs><path id="p60" d="m 0,0 H 81.57 v 25 H 0 V 20 c 0,-10 -8,8 -8,-7.5 s 8,2.5 8,-7.5 z"/><clipPath id="cp60"><use href="#p60"/></clipPath></defs><use href="#p60" transform="translate(1,1)" fill="#881d4d"/><g clip-path="url(#cp60)"><use href="#p60" fill="#c46690"/><use href="#p60" transform="translate(0.6,0.6)" fill="#aa2460"/></g><text x="10.00" y="17.46" class="bt">“</text>
<rect x="19.88" y="5.30" width="41.80" height="16" rx="4" ry="4" class="er"/>
<text x="24.88" y="17.46" class="et">pavo</text>
<text x="66.69" y="17.46" class="bt">”</text></g></g><g transform="translate(487.20,435.10) scale(0.8265)"><g transform="translate(0.00,0.00)"><defs><path id="p61" d="m 0,8 A 8,8 0 0,1 8,0 H 162.29 v 25 H 66.31 l -6,4 -3,0 -6,-4 h -7 a 8,8 0 0,0 -8,8 v 65.50 a 8,8 0 0,0 8,8 H 162.29 v 10 H 8 a 8,8 0 0,1 -8,-8 z"/><clipPath id="cp61"><use href="#p61"/></clipPath></defs><use href="#p61" transform="translate(1,1)" fill="#887230"/><g clip-path="url(#cp61)"><use href="#p61" fill="#c4b076"/><use href="#p61" transform="translate(0.6,0.6)" fill="#aa8e3c"/></g><text x="10.00" y="18.03" class="bt">when </text>
<rect x="54.14" y="5.30" width="57.30" height="16" rx="4" ry="4" class="er"/>
<text x="59.14" y="18.03" class="et">Perro <tspan fill="#aa8e3c">▾</tspan></text>
<text x="116.44" y="18.03" class="bt">.Click</text><text x="10.00" y="42.23" class="bt">do</text></g><g transform="translate(37.31,26.00)"><defs><path id="p62" d="m 0,8 A 8,8 0 0,1 8,0 H 15 l 6,4 3,0 6,-4 H 237.65 v 5 c 0,10 -8,-8 -8,7.5 s 8,-2.5 8,7.5 v 5 H 29.5 l -6,4 -3,0 -6,-4 H 0 z"/><clipPath id="cp62"><use href="#p62"/></clipPath></defs><use href="#p62" transform="translate(1,1)" fill="#2a5538"/><g clip-path="url(#cp62)"><use href="#p62" fill="#72977e"/><use href="#p62" transform="translate(0.6,0.6)" fill="#356a46"/></g><text x="10.00" y="17.44" class="bt">set </text>
<rect x="38.64" y="5.30" width="77.71" height="16" rx="4" ry="4" class="er"/>
<text x="43.64" y="17.44" class="et">sound_1 <tspan fill="#356a46">▾</tspan></text>
<text x="121.35" y="17.44" class="bt">.</text>
<rect x="130.43" y="5.30" width="67.91" height="16" rx="4" ry="4" class="er"/>
<text x="135.43" y="17.44" class="et">Source <tspan fill="#356a46">▾</tspan></text>
<text x="203.34" y="17.44" class="bt"> to</text></g><g transform="translate(275.96,26.00)"><defs><path id="p63" d="m 0,0 H 116.62 v 25 H 0 V 20 c 0,-10 -8,8 -8,-7.5 s 8,2.5 8,-7.5 z"/><clipPath id="cp63"><use href="#p63"/></clipPath></defs><use href="#p63" transform="translate(1,1)" fill="#881d4d"/><g clip-path="url(#cp63)"><use href="#p63" fill="#c46690"/><use href="#p63" transform="translate(0.6,0.6)" fill="#aa2460"/></g><text x="10.00" y="17.44" class="bt">“</text>
<rect x="19.88" y="5.30" width="76.85" height="16" rx="4" ry="4" class="er"/>
<text x="24.88" y="17.44" class="et">perro.mp3</text>
<text x="101.73" y="17.44" class="bt">”</text></g><g transform="translate(37.31,52.00)"><defs><path id="p64" d="m 0,0 H 15 l 6,4 3,0 6,-4 H 166.40 v 25 H 29.5 l -6,4 -3,0 -6,-4 H 0 z"/><clipPath id="cp64"><use href="#p64"/></clipPath></defs><use href="#p64" transform="translate(1,1)" fill="#62426a"/><g clip-path="url(#cp64)"><use href="#p64" fill="#a387aa"/><use href="#p64" transform="translate(0.6,0.6)" fill="#7b5385"/></g><text x="10.00" y="18.05" class="bt">call </text>
<rect x="41.08" y="5.30" width="77.71" height="16" rx="4" ry="4" class="er"/>
<text x="46.08" y="18.05" class="et">sound_1 <tspan fill="#7b5385">▾</tspan></text>
<text x="123.80" y="18.05" class="bt">.Play</text></g><g transform="translate(37.31,78.00)"><defs><path id="p65" d="m 0,0 H 15 l 6,4 3,0 6,-4 H 262.89 v 5 c 0,10 -8,-8 -8,7.5 s 8,-2.5 8,7.5 v 5 H 29.5 l -6,4 -3,0 -6,-4 H 8 a 8,8 0 0,1 -8,-8 z"/><clipPath id="cp65"><use href="#p65"/></clipPath></defs><use href="#p65" transform="translate(1,1)" fill="#2a5538"/><g clip-path="url(#cp65)"><use href="#p65" fill="#72977e"/><use href="#p65" transform="translate(0.6,0.6)" fill="#356a46"/></g><text x="10.00" y="17.46" class="bt">set </text>
<rect x="38.64" y="5.30" width="122.53" height="16" rx="4" ry="4" class="er"/>
<text x="43.64" y="17.46" class="et">nombre_animal <tspan fill="#356a46">▾</tspan></text>
<text x="166.17" y="17.46" class="bt">.</text>
<rect x="175.25" y="5.30" width="48.34" height="16" rx="4" ry="4" class="er"/>
<text x="180.25" y="17.46" class="et">Text <tspan fill="#356a46">▾</tspan></text>
<text x="228.58" y="17.46" class="bt"> to</text></g><g transform="translate(301.20,78.00)"><defs><path id="p66" d="m 0,0 H 84.01 v 25 H 0 V 20 c 0,-10 -8,8 -8,-7.5 s 8,2.5 8,-7.5 z"/><clipPath id="cp66"><use href="#p66"/></clipPath></defs><use href="#p66" transform="translate(1,1)" fill="#881d4d"/><g clip-path="url(#cp66)"><use href="#p66" fill="#c46690"/><use href="#p66" transform="translate(0.6,0.6)" fill="#aa2460"/></g><text x="10.00" y="17.46" class="bt">“</text>
<rect x="19.88" y="5.30" width="44.24" height="16" rx="4" ry="4" class="er"/>
<text x="24.88" y="17.46" class="et">perro</text>
<text x="69.12" y="17.46" class="bt">”</text></g></g><g transform="translate(489.05,547.40) scale(0.8265)"><g transform="translate(0.00,0.00)"><defs><path id="p67" d="m 0,8 A 8,8 0 0,1 8,0 H 158.77 v 25 H 66.31 l -6,4 -3,0 -6,-4 h -7 a 8,8 0 0,0 -8,8 v 65.50 a 8,8 0 0,0 8,8 H 158.77 v 10 H 8 a 8,8 0 0,1 -8,-8 z"/><clipPath id="cp67"><use href="#p67"/></clipPath></defs><use href="#p67" transform="translate(1,1)" fill="#887230"/><g clip-path="url(#cp67)"><use href="#p67" fill="#c4b076"/><use href="#p67" transform="translate(0.6,0.6)" fill="#aa8e3c"/></g><text x="10.00" y="17.66" class="bt">when </text>
<rect x="54.14" y="5.30" width="53.78" height="16" rx="4" ry="4" class="er"/>
<text x="59.14" y="17.66" class="et">Vaca <tspan fill="#aa8e3c">▾</tspan></text>
<text x="112.92" y="17.66" class="bt">.Click</text><text x="10.00" y="43.07" class="bt">do</text></g><g transform="translate(37.31,26.00)"><defs><path id="p68" d="m 0,8 A 8,8 0 0,1 8,0 H 15 l 6,4 3,0 6,-4 H 237.65 v 5 c 0,10 -8,-8 -8,7.5 s 8,-2.5 8,7.5 v 5 H 29.5 l -6,4 -3,0 -6,-4 H 0 z"/><clipPath id="cp68"><use href="#p68"/></clipPath></defs><use href="#p68" transform="translate(1,1)" fill="#2a5538"/><g clip-path="url(#cp68)"><use href="#p68" fill="#72977e"/><use href="#p68" transform="translate(0.6,0.6)" fill="#356a46"/></g><text x="10.00" y="17.07" class="bt">set </text>
<rect x="38.64" y="5.30" width="77.71" height="16" rx="4" ry="4" class="er"/>
<text x="43.64" y="17.07" class="et">sound_1 <tspan fill="#356a46">▾</tspan></text>
<text x="121.35" y="17.07" class="bt">.</text>
<rect x="130.43" y="5.30" width="67.91" height="16" rx="4" ry="4" class="er"/>
<text x="135.43" y="17.07" class="et">Source <tspan fill="#356a46">▾</tspan></text>
<text x="203.34" y="17.07" class="bt"> to</text></g><g transform="translate(275.96,26.00)"><defs><path id="p69" d="m 0,0 H 113.36 v 25 H 0 V 20 c 0,-10 -8,8 -8,-7.5 s 8,2.5 8,-7.5 z"/><clipPath id="cp69"><use href="#p69"/></clipPath></defs><use href="#p69" transform="translate(1,1)" fill="#881d4d"/><g clip-path="url(#cp69)"><use href="#p69" fill="#c46690"/><use href="#p69" transform="translate(0.6,0.6)" fill="#aa2460"/></g><text x="10.00" y="17.07" class="bt">“</text>
<rect x="19.88" y="5.30" width="73.59" height="16" rx="4" ry="4" class="er"/>
<text x="24.88" y="17.07" class="et">vaca.mp3</text>
<text x="98.47" y="17.07" class="bt">”</text></g><g transform="translate(37.31,52.00)"><defs><path id="p70" d="m 0,0 H 15 l 6,4 3,0 6,-4 H 166.40 v 25 H 29.5 l -6,4 -3,0 -6,-4 H 0 z"/><clipPath id="cp70"><use href="#p70"/></clipPath></defs><use href="#p70" transform="translate(1,1)" fill="#62426a"/><g clip-path="url(#cp70)"><use href="#p70" fill="#a387aa"/><use href="#p70" transform="translate(0.6,0.6)" fill="#7b5385"/></g><text x="10.00" y="17.69" class="bt">call </text>
<rect x="41.08" y="5.30" width="77.71" height="16" rx="4" ry="4" class="er"/>
<text x="46.08" y="17.69" class="et">sound_1 <tspan fill="#7b5385">▾</tspan></text>
<text x="123.80" y="17.69" class="bt">.Play</text></g><g transform="translate(37.31,78.00)"><defs><path id="p71" d="m 0,0 H 15 l 6,4 3,0 6,-4 H 262.89 v 5 c 0,10 -8,-8 -8,7.5 s 8,-2.5 8,7.5 v 5 H 29.5 l -6,4 -3,0 -6,-4 H 8 a 8,8 0 0,1 -8,-8 z"/><clipPath id="cp71"><use href="#p71"/></clipPath></defs><use href="#p71" transform="translate(1,1)" fill="#2a5538"/><g clip-path="url(#cp71)"><use href="#p71" fill="#72977e"/><use href="#p71" transform="translate(0.6,0.6)" fill="#356a46"/></g><text x="10.00" y="17.10" class="bt">set </text>
<rect x="38.64" y="5.30" width="122.53" height="16" rx="4" ry="4" class="er"/>
<text x="43.64" y="17.10" class="et">nombre_animal <tspan fill="#356a46">▾</tspan></text>
<text x="166.17" y="17.10" class="bt">.</text>
<rect x="175.25" y="5.30" width="48.34" height="16" rx="4" ry="4" class="er"/>
<text x="180.25" y="17.10" class="et">Text <tspan fill="#356a46">▾</tspan></text>
<text x="228.58" y="17.10" class="bt"> to</text></g><g transform="translate(301.20,78.00)"><defs><path id="p72" d="m 0,0 H 80.75 v 25 H 0 V 20 c 0,-10 -8,8 -8,-7.5 s 8,2.5 8,-7.5 z"/><clipPath id="cp72"><use href="#p72"/></clipPath></defs><use href="#p72" transform="translate(1,1)" fill="#881d4d"/><g clip-path="url(#cp72)"><use href="#p72" fill="#c46690"/><use href="#p72" transform="translate(0.6,0.6)" fill="#aa2460"/></g><text x="10.00" y="17.10" class="bt">“</text>
<rect x="19.88" y="5.30" width="40.98" height="16" rx="4" ry="4" class="er"/>
<text x="24.88" y="17.10" class="et">vaca</text>
<text x="65.87" y="17.10" class="bt">”</text></g></g><path d="M 910.25 33.25 Q 917.75 47.00 918.00 77.00 Q 918.00 83.25 910.88 84.50 L 907.12 77.00 Q 912.75 53.25 907.12 38.25 Z" fill="#10302a" stroke="#10302a" stroke-width="1" stroke-linejoin="round" stroke-linecap="round" />
<path d="M 884.00 23.88 L 912.75 33.25 L 901.50 64.50 L 884.00 59.50 Z" fill="#3f9a88" stroke="#10302a" stroke-width="1.3" stroke-linejoin="round" stroke-linecap="round" />
<path d="M 865.88 22.00 Q 867.12 14.50 874.00 14.25 Q 881.50 14.75 882.50 22.62" fill="none" stroke="#10302a" stroke-width="2.4" stroke-linejoin="round" stroke-linecap="round" />
<path d="M 870.88 20.75 Q 872.75 17.62 875.88 18.50 Q 878.38 19.50 879.00 22.00" fill="none" stroke="#10302a" stroke-width="0.9" stroke-linejoin="round" stroke-linecap="round" opacity=".9"/>
<path d="M 831.50 36.38 L 847.75 26.38 L 866.50 20.75 L 884.00 22.62 L 914.00 32.62 L 901.50 64.50 L 840.25 60.75 Z" fill="#10302a" stroke="#10302a" stroke-width="1" stroke-linejoin="round" stroke-linecap="round" />
<polygon points="831.50,36.75 837.50,33.88 835.50,30.50 847.50,27.00 849.62,30.12 857.12,28.00 857.12,59.50 840.88,59.50" fill="#c75b32" stroke="#10302a" stroke-width="1.6" stroke-linejoin="round"/>
<polygon points="858.38,27.62 864.25,26.50 863.00,23.00 874.25,22.00 873.25,26.00 882.50,26.75 882.50,60.12 858.38,60.12" fill="#5ba3d0" stroke="#10302a" stroke-width="1.6" stroke-linejoin="round"/>
<polygon points="888.75,26.75 894.00,29.75 896.50,33.50 903.75,34.50 904.25,31.00 910.50,33.88 900.25,63.25 884.25,60.12 884.25,39.50" fill="#7d5289" stroke="#10302a" stroke-width="1.6" stroke-linejoin="round"/>
<path d="M 839.62 60.12 Q 831.50 70.75 833.38 78.25 Q 835.88 87.00 850.25 92.62 Q 879.00 97.00 906.50 90.12 Q 910.88 77.00 907.12 65.12 Q 904.00 62.00 899.00 62.00 Z" fill="#62b8a8" stroke="#10302a" stroke-width="1.9" stroke-linejoin="round" stroke-linecap="round" />
<path d="M 900.25 62.62 Q 904.00 77.00 900.25 91.38" fill="none" stroke="#10302a" stroke-width="1.1" stroke-linejoin="round" stroke-linecap="round" />
<path d="M 904.62 63.25 Q 908.38 77.00 905.50 90.12" fill="none" stroke="#10302a" stroke-width="1.0" stroke-linejoin="round" stroke-linecap="round" />
<path d="M 841.75 61.00 Q 832.75 75.75 844.62 82.62 Q 866.50 88.88 884.62 72.00 Q 892.75 65.12 899.25 63.25" fill="none" stroke="#10302a" stroke-width="4.6" stroke-linejoin="round" stroke-linecap="round" />
<path d="M 841.75 61.00 Q 832.75 75.75 844.62 82.62 Q 866.50 88.88 884.62 72.00 Q 892.75 65.12 899.25 63.25" fill="none" stroke="#62b8a8" stroke-width="1.9" stroke-linejoin="round" stroke-linecap="round" />
<path d="M 889.00 73.25 L 890.50 82.00 L 879.00 83.25" fill="none" stroke="#10302a" stroke-width="1.4" stroke-linejoin="round" stroke-linecap="round" />
<g stroke="#1a1a1a" stroke-width="1.5" fill="none"><circle cx="889.7" cy="548.0" r="11.3"/><path d="M889.7 532.5V539.0M889.7 563.5V557.0M874.2 548.0H880.7M905.2 548.0H898.7"/></g><circle cx="889.7" cy="548.0" r="4.3" fill="#1a1a1a"/>
<g stroke="#1a1a1a" stroke-width="1.5" fill="none"><circle cx="888.9" cy="591.6" r="15"/><path d="M881.4 591.6H896.4M888.9 584.1V599.1"/></g>
<g stroke="#1a1a1a" stroke-width="1.5" fill="none"><circle cx="888.9" cy="625.7" r="15"/><path d="M881.4 625.7H896.4"/></g>
<g fill="#1c1c1c"><rect x="859.8" y="672.0" width="42.4" height="5.6"/><path d="M870.5 672.5 L873.5 669.0 H888.5 L891.5 672.5z"/><path d="M863.0 681.0 H899.0 V719.5 Q899.0 722.8 895.8 722.8 H866.2 Q863.0 722.8 863.0 719.5z"/></g>
<rect x="927.0" y="193.0" width="9.6" height="407" rx="4.8" fill="#c9c9c9"/>
<rect x="222.0" y="745.0" width="517" height="9.6" rx="4.8" fill="#c9c9c9"/>
<path d="M35.0 662.3 L45.0 652.8 L55.0 662.3z" fill="#e6e6e6" stroke="#222" stroke-width="0.9"/>
<path d="M35.0 689.6 L45.0 699.2 L55.0 689.6z" fill="#e6e6e6" stroke="#222" stroke-width="0.9"/>
<path d="M101.8 662.3 L111.8 652.8 L121.8 662.3z" fill="#e6e6e6" stroke="#222" stroke-width="0.9"/>
<path d="M101.8 689.6 L111.8 699.2 L121.8 689.6z" fill="#e6e6e6" stroke="#222" stroke-width="0.9"/>
<path d="M42.8 668.5 L51.3 682.8 H34.3z" fill="#f6f49a" stroke="#c8c8b0" stroke-width="1" stroke-linejoin="round"/><path d="M42.8 673.0 V678.3" stroke="#b8b78a" stroke-width="1.5"/><circle cx="42.8" cy="680.6" r=".9" fill="#b8b78a"/>
<text x="55.0" y="682.0" font-family="Liberation Sans,sans-serif" font-size="13" fill="#111">0</text>
<circle cx="107.8" cy="675.8" r="8" fill="#e9506a" stroke="#c9c9c9" stroke-width="1"/><path d="M104.1 672.1L111.5 679.5M111.5 672.1L104.1 679.5" stroke="#fff" stroke-width="2.4"/>
<text x="120.0" y="682.0" font-family="Liberation Sans,sans-serif" font-size="13" fill="#111">0</text>
<rect x="19.7" y="703.2" width="120.4" height="19.8" fill="#ececec" stroke="#4d4d4d" stroke-width="1.5"/>
<text x="33.5" y="718.0" font-family="Liberation Sans,sans-serif" font-size="13" letter-spacing="0.163" fill="#111">Show Warnings</text></svg>
</div>
</body></html>
